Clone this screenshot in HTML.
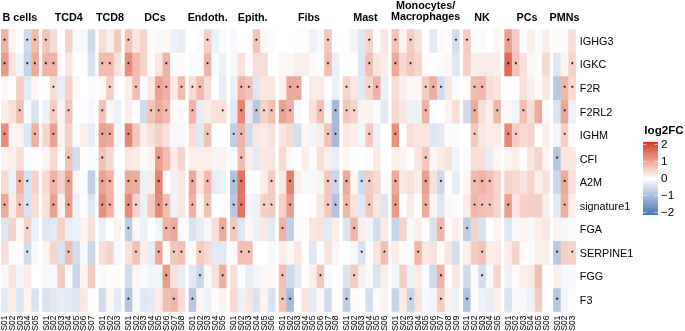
<!DOCTYPE html><html><head><meta charset="utf-8"><title>heatmap</title><style>html,body{margin:0;padding:0;background:#fff}svg{display:block;will-change:transform;opacity:0.999}text{font-family:"Liberation Sans",sans-serif;fill:#000}</style></head><body>
<svg width="685" height="331" viewBox="0 0 685 331">
<defs><linearGradient id="lg" x1="0" y1="0" x2="0" y2="1">
<stop offset="0.0000" stop-color="#d73027"/>
<stop offset="0.0250" stop-color="#d93e30"/>
<stop offset="0.0500" stop-color="#db4b3a"/>
<stop offset="0.0750" stop-color="#dd5644"/>
<stop offset="0.1000" stop-color="#df624e"/>
<stop offset="0.1250" stop-color="#e16c58"/>
<stop offset="0.1500" stop-color="#e37763"/>
<stop offset="0.1750" stop-color="#e5816d"/>
<stop offset="0.2000" stop-color="#e78b77"/>
<stop offset="0.2250" stop-color="#e99482"/>
<stop offset="0.2500" stop-color="#eb9e8d"/>
<stop offset="0.2750" stop-color="#eda898"/>
<stop offset="0.3000" stop-color="#efb2a3"/>
<stop offset="0.3250" stop-color="#f1bbae"/>
<stop offset="0.3500" stop-color="#f3c5b9"/>
<stop offset="0.3750" stop-color="#f5cfc5"/>
<stop offset="0.4000" stop-color="#f7d8d0"/>
<stop offset="0.4250" stop-color="#f9e2dc"/>
<stop offset="0.4500" stop-color="#fbece7"/>
<stop offset="0.4750" stop-color="#fdf5f3"/>
<stop offset="0.5000" stop-color="#ffffff"/>
<stop offset="0.5250" stop-color="#f6f8fb"/>
<stop offset="0.5500" stop-color="#ecf0f8"/>
<stop offset="0.5750" stop-color="#e4eaf4"/>
<stop offset="0.6000" stop-color="#dbe2f0"/>
<stop offset="0.6250" stop-color="#d2dcec"/>
<stop offset="0.6500" stop-color="#c8d4e9"/>
<stop offset="0.6750" stop-color="#c0cee5"/>
<stop offset="0.7000" stop-color="#b6c6e1"/>
<stop offset="0.7250" stop-color="#aec0dd"/>
<stop offset="0.7500" stop-color="#a4b8da"/>
<stop offset="0.7750" stop-color="#9cb2d6"/>
<stop offset="0.8000" stop-color="#92aad2"/>
<stop offset="0.8250" stop-color="#89a4ce"/>
<stop offset="0.8500" stop-color="#809dca"/>
<stop offset="0.8750" stop-color="#7696c7"/>
<stop offset="0.9000" stop-color="#6c90c3"/>
<stop offset="0.9250" stop-color="#6389bf"/>
<stop offset="0.9500" stop-color="#5982bb"/>
<stop offset="0.9750" stop-color="#4f7cb8"/>
<stop offset="1.0000" stop-color="#4575b4"/>
</linearGradient></defs>
<rect width="685" height="331" fill="#fff"/>
<rect x="1.00" y="29.20" width="8.17" height="24.15" fill="#efb2a4"/>
<rect x="8.57" y="29.20" width="8.17" height="24.15" fill="#fcf2ef"/>
<rect x="16.14" y="29.20" width="8.17" height="24.15" fill="#fefcfc"/>
<rect x="23.71" y="29.20" width="8.17" height="24.15" fill="#d0dbec"/>
<rect x="31.28" y="29.20" width="7.57" height="24.15" fill="#f1bbad"/>
<rect x="1.00" y="52.75" width="8.17" height="24.15" fill="#ea9987"/>
<rect x="8.57" y="52.75" width="8.17" height="24.15" fill="#fae5e0"/>
<rect x="16.14" y="52.75" width="8.17" height="24.15" fill="#f1f4f9"/>
<rect x="23.71" y="52.75" width="8.17" height="24.15" fill="#c8d4e8"/>
<rect x="31.28" y="52.75" width="7.57" height="24.15" fill="#edaa9a"/>
<rect x="1.00" y="76.30" width="8.17" height="24.15" fill="#fdf6f5"/>
<rect x="8.57" y="76.30" width="8.17" height="24.15" fill="#ffffff"/>
<rect x="16.14" y="76.30" width="8.17" height="24.15" fill="#f5d0c6"/>
<rect x="23.71" y="76.30" width="8.17" height="24.15" fill="#e3e9f4"/>
<rect x="31.28" y="76.30" width="7.57" height="24.15" fill="#fdf6f5"/>
<rect x="1.00" y="99.85" width="8.17" height="24.15" fill="#fbeeea"/>
<rect x="8.57" y="99.85" width="8.17" height="24.15" fill="#f8ddd6"/>
<rect x="16.14" y="99.85" width="8.17" height="24.15" fill="#f2bfb2"/>
<rect x="23.71" y="99.85" width="8.17" height="24.15" fill="#f6f8fb"/>
<rect x="31.28" y="99.85" width="7.57" height="24.15" fill="#dae2f0"/>
<rect x="1.00" y="123.40" width="8.17" height="24.15" fill="#e8907d"/>
<rect x="8.57" y="123.40" width="8.17" height="24.15" fill="#fdf6f5"/>
<rect x="16.14" y="123.40" width="8.17" height="24.15" fill="#fcf2ef"/>
<rect x="23.71" y="123.40" width="8.17" height="24.15" fill="#dee6f2"/>
<rect x="31.28" y="123.40" width="7.57" height="24.15" fill="#efb2a4"/>
<rect x="1.00" y="146.95" width="8.17" height="24.15" fill="#fcf2ef"/>
<rect x="8.57" y="146.95" width="8.17" height="24.15" fill="#fbeeea"/>
<rect x="16.14" y="146.95" width="8.17" height="24.15" fill="#f8ddd6"/>
<rect x="23.71" y="146.95" width="8.17" height="24.15" fill="#fafbfd"/>
<rect x="31.28" y="146.95" width="7.57" height="24.15" fill="#fefcfc"/>
<rect x="1.00" y="170.50" width="8.17" height="24.15" fill="#f7d9d0"/>
<rect x="8.57" y="170.50" width="8.17" height="24.15" fill="#ecf0f7"/>
<rect x="16.14" y="170.50" width="8.17" height="24.15" fill="#efb2a4"/>
<rect x="23.71" y="170.50" width="8.17" height="24.15" fill="#dae2f0"/>
<rect x="31.28" y="170.50" width="7.57" height="24.15" fill="#f6d4cb"/>
<rect x="1.00" y="194.05" width="8.17" height="24.15" fill="#edaa9a"/>
<rect x="8.57" y="194.05" width="8.17" height="24.15" fill="#fbeeea"/>
<rect x="16.14" y="194.05" width="8.17" height="24.15" fill="#f3c3b7"/>
<rect x="23.71" y="194.05" width="8.17" height="24.15" fill="#dae2f0"/>
<rect x="31.28" y="194.05" width="7.57" height="24.15" fill="#f8ddd6"/>
<rect x="1.00" y="217.60" width="8.17" height="24.15" fill="#dee6f2"/>
<rect x="8.57" y="217.60" width="8.17" height="24.15" fill="#f6d4cb"/>
<rect x="16.14" y="217.60" width="8.17" height="24.15" fill="#fdf6f5"/>
<rect x="23.71" y="217.60" width="8.17" height="24.15" fill="#f6d4cb"/>
<rect x="31.28" y="217.60" width="7.57" height="24.15" fill="#ecf0f7"/>
<rect x="1.00" y="241.15" width="8.17" height="24.15" fill="#f8ddd6"/>
<rect x="8.57" y="241.15" width="8.17" height="24.15" fill="#fefcfc"/>
<rect x="16.14" y="241.15" width="8.17" height="24.15" fill="#fefcfc"/>
<rect x="23.71" y="241.15" width="8.17" height="24.15" fill="#d5deee"/>
<rect x="31.28" y="241.15" width="7.57" height="24.15" fill="#f6f8fb"/>
<rect x="1.00" y="264.70" width="8.17" height="24.15" fill="#f6f8fb"/>
<rect x="8.57" y="264.70" width="8.17" height="24.15" fill="#f9e1db"/>
<rect x="16.14" y="264.70" width="8.17" height="24.15" fill="#f1f4f9"/>
<rect x="23.71" y="264.70" width="8.17" height="24.15" fill="#fbeae5"/>
<rect x="31.28" y="264.70" width="7.57" height="24.15" fill="#ffffff"/>
<rect x="1.00" y="288.25" width="8.17" height="23.55" fill="#e3e9f4"/>
<rect x="8.57" y="288.25" width="8.17" height="23.55" fill="#fbeae5"/>
<rect x="16.14" y="288.25" width="8.17" height="23.55" fill="#dee6f2"/>
<rect x="23.71" y="288.25" width="8.17" height="23.55" fill="#fcf2ef"/>
<rect x="31.28" y="288.25" width="7.57" height="23.55" fill="#dae2f0"/>
<rect x="42.25" y="29.20" width="8.17" height="24.15" fill="#f3c3b7"/>
<rect x="49.82" y="29.20" width="8.17" height="24.15" fill="#f8ddd6"/>
<rect x="57.39" y="29.20" width="8.17" height="24.15" fill="#ffffff"/>
<rect x="64.96" y="29.20" width="8.17" height="24.15" fill="#f6d4cb"/>
<rect x="72.53" y="29.20" width="8.17" height="24.15" fill="#f6f8fb"/>
<rect x="80.10" y="29.20" width="8.17" height="24.15" fill="#f6f8fb"/>
<rect x="87.67" y="29.20" width="7.57" height="24.15" fill="#d0dbec"/>
<rect x="42.25" y="52.75" width="8.17" height="24.15" fill="#efb2a4"/>
<rect x="49.82" y="52.75" width="8.17" height="24.15" fill="#efb2a4"/>
<rect x="57.39" y="52.75" width="8.17" height="24.15" fill="#fafbfd"/>
<rect x="64.96" y="52.75" width="8.17" height="24.15" fill="#fae5e0"/>
<rect x="72.53" y="52.75" width="8.17" height="24.15" fill="#ffffff"/>
<rect x="80.10" y="52.75" width="8.17" height="24.15" fill="#fefbfa"/>
<rect x="87.67" y="52.75" width="7.57" height="24.15" fill="#dae2f0"/>
<rect x="42.25" y="76.30" width="8.17" height="24.15" fill="#ffffff"/>
<rect x="49.82" y="76.30" width="8.17" height="24.15" fill="#f8ddd6"/>
<rect x="57.39" y="76.30" width="8.17" height="24.15" fill="#e8ecf5"/>
<rect x="64.96" y="76.30" width="8.17" height="24.15" fill="#f6d4cb"/>
<rect x="72.53" y="76.30" width="8.17" height="24.15" fill="#fdf6f5"/>
<rect x="80.10" y="76.30" width="8.17" height="24.15" fill="#ffffff"/>
<rect x="87.67" y="76.30" width="7.57" height="24.15" fill="#fafbfd"/>
<rect x="42.25" y="99.85" width="8.17" height="24.15" fill="#ecf0f7"/>
<rect x="49.82" y="99.85" width="8.17" height="24.15" fill="#f4ccc1"/>
<rect x="57.39" y="99.85" width="8.17" height="24.15" fill="#fcf2ef"/>
<rect x="64.96" y="99.85" width="8.17" height="24.15" fill="#f3c3b7"/>
<rect x="72.53" y="99.85" width="8.17" height="24.15" fill="#ffffff"/>
<rect x="80.10" y="99.85" width="8.17" height="24.15" fill="#fcfdfe"/>
<rect x="87.67" y="99.85" width="7.57" height="24.15" fill="#f6f8fb"/>
<rect x="42.25" y="123.40" width="8.17" height="24.15" fill="#f6d4cb"/>
<rect x="49.82" y="123.40" width="8.17" height="24.15" fill="#eca190"/>
<rect x="57.39" y="123.40" width="8.17" height="24.15" fill="#fcf2ef"/>
<rect x="64.96" y="123.40" width="8.17" height="24.15" fill="#f6d4cb"/>
<rect x="72.53" y="123.40" width="8.17" height="24.15" fill="#fafbfd"/>
<rect x="80.10" y="123.40" width="8.17" height="24.15" fill="#fbeeea"/>
<rect x="87.67" y="123.40" width="7.57" height="24.15" fill="#e8ecf5"/>
<rect x="42.25" y="146.95" width="8.17" height="24.15" fill="#fcf2ef"/>
<rect x="49.82" y="146.95" width="8.17" height="24.15" fill="#f7d9d0"/>
<rect x="57.39" y="146.95" width="8.17" height="24.15" fill="#fefcfc"/>
<rect x="64.96" y="146.95" width="8.17" height="24.15" fill="#f3c3b7"/>
<rect x="72.53" y="146.95" width="8.17" height="24.15" fill="#d5deee"/>
<rect x="80.10" y="146.95" width="8.17" height="24.15" fill="#fefcfc"/>
<rect x="87.67" y="146.95" width="7.57" height="24.15" fill="#fafbfd"/>
<rect x="42.25" y="170.50" width="8.17" height="24.15" fill="#f7d9d0"/>
<rect x="49.82" y="170.50" width="8.17" height="24.15" fill="#efb2a4"/>
<rect x="57.39" y="170.50" width="8.17" height="24.15" fill="#f6d4cb"/>
<rect x="64.96" y="170.50" width="8.17" height="24.15" fill="#eca190"/>
<rect x="72.53" y="170.50" width="8.17" height="24.15" fill="#fcf2ef"/>
<rect x="80.10" y="170.50" width="8.17" height="24.15" fill="#fafbfd"/>
<rect x="87.67" y="170.50" width="7.57" height="24.15" fill="#c2d0e6"/>
<rect x="42.25" y="194.05" width="8.17" height="24.15" fill="#f9e1db"/>
<rect x="49.82" y="194.05" width="8.17" height="24.15" fill="#eca190"/>
<rect x="57.39" y="194.05" width="8.17" height="24.15" fill="#fcf2ef"/>
<rect x="64.96" y="194.05" width="8.17" height="24.15" fill="#eca190"/>
<rect x="72.53" y="194.05" width="8.17" height="24.15" fill="#ecf0f7"/>
<rect x="80.10" y="194.05" width="8.17" height="24.15" fill="#fefcfc"/>
<rect x="87.67" y="194.05" width="7.57" height="24.15" fill="#dee6f2"/>
<rect x="42.25" y="217.60" width="8.17" height="24.15" fill="#dee6f2"/>
<rect x="49.82" y="217.60" width="8.17" height="24.15" fill="#e3e9f4"/>
<rect x="57.39" y="217.60" width="8.17" height="24.15" fill="#f6d4cb"/>
<rect x="64.96" y="217.60" width="8.17" height="24.15" fill="#e8ecf5"/>
<rect x="72.53" y="217.60" width="8.17" height="24.15" fill="#ecf0f7"/>
<rect x="80.10" y="217.60" width="8.17" height="24.15" fill="#fcf2ef"/>
<rect x="87.67" y="217.60" width="7.57" height="24.15" fill="#f9e1db"/>
<rect x="42.25" y="241.15" width="8.17" height="24.15" fill="#fcf2ef"/>
<rect x="49.82" y="241.15" width="8.17" height="24.15" fill="#f6d4cb"/>
<rect x="57.39" y="241.15" width="8.17" height="24.15" fill="#dae2f0"/>
<rect x="64.96" y="241.15" width="8.17" height="24.15" fill="#f1bbad"/>
<rect x="72.53" y="241.15" width="8.17" height="24.15" fill="#d5deee"/>
<rect x="80.10" y="241.15" width="8.17" height="24.15" fill="#f6f8fb"/>
<rect x="87.67" y="241.15" width="7.57" height="24.15" fill="#ccd7ea"/>
<rect x="42.25" y="264.70" width="8.17" height="24.15" fill="#f6f8fb"/>
<rect x="49.82" y="264.70" width="8.17" height="24.15" fill="#f6f8fb"/>
<rect x="57.39" y="264.70" width="8.17" height="24.15" fill="#f4ccc1"/>
<rect x="64.96" y="264.70" width="8.17" height="24.15" fill="#fafbfd"/>
<rect x="72.53" y="264.70" width="8.17" height="24.15" fill="#ccd7ea"/>
<rect x="80.10" y="264.70" width="8.17" height="24.15" fill="#fcf2ef"/>
<rect x="87.67" y="264.70" width="7.57" height="24.15" fill="#f4ccc1"/>
<rect x="42.25" y="288.25" width="8.17" height="23.55" fill="#dae2f0"/>
<rect x="49.82" y="288.25" width="8.17" height="23.55" fill="#e3e9f4"/>
<rect x="57.39" y="288.25" width="8.17" height="23.55" fill="#e8ecf5"/>
<rect x="64.96" y="288.25" width="8.17" height="23.55" fill="#e3e9f4"/>
<rect x="72.53" y="288.25" width="8.17" height="23.55" fill="#dee6f2"/>
<rect x="80.10" y="288.25" width="8.17" height="23.55" fill="#fae5e0"/>
<rect x="87.67" y="288.25" width="7.57" height="23.55" fill="#fefcfc"/>
<rect x="98.64" y="29.20" width="8.17" height="24.15" fill="#f8ddd6"/>
<rect x="106.21" y="29.20" width="8.17" height="24.15" fill="#fbeeea"/>
<rect x="113.78" y="29.20" width="7.57" height="24.15" fill="#f4ccc1"/>
<rect x="98.64" y="52.75" width="8.17" height="24.15" fill="#f1bbad"/>
<rect x="106.21" y="52.75" width="8.17" height="24.15" fill="#f1bbad"/>
<rect x="113.78" y="52.75" width="7.57" height="24.15" fill="#f9e1db"/>
<rect x="98.64" y="76.30" width="8.17" height="24.15" fill="#fdf6f5"/>
<rect x="106.21" y="76.30" width="8.17" height="24.15" fill="#f4ccc1"/>
<rect x="113.78" y="76.30" width="7.57" height="24.15" fill="#ffffff"/>
<rect x="98.64" y="99.85" width="8.17" height="24.15" fill="#f3c3b7"/>
<rect x="106.21" y="99.85" width="8.17" height="24.15" fill="#fdf6f5"/>
<rect x="113.78" y="99.85" width="7.57" height="24.15" fill="#ecf0f7"/>
<rect x="98.64" y="123.40" width="8.17" height="24.15" fill="#eca190"/>
<rect x="106.21" y="123.40" width="8.17" height="24.15" fill="#edaa9a"/>
<rect x="113.78" y="123.40" width="7.57" height="24.15" fill="#f4f6fa"/>
<rect x="98.64" y="146.95" width="8.17" height="24.15" fill="#f3c3b7"/>
<rect x="106.21" y="146.95" width="8.17" height="24.15" fill="#f7d9d0"/>
<rect x="113.78" y="146.95" width="7.57" height="24.15" fill="#fefcfc"/>
<rect x="98.64" y="170.50" width="8.17" height="24.15" fill="#eca190"/>
<rect x="106.21" y="170.50" width="8.17" height="24.15" fill="#efb2a4"/>
<rect x="113.78" y="170.50" width="7.57" height="24.15" fill="#fefcfc"/>
<rect x="98.64" y="194.05" width="8.17" height="24.15" fill="#e8907d"/>
<rect x="106.21" y="194.05" width="8.17" height="24.15" fill="#efb2a4"/>
<rect x="113.78" y="194.05" width="7.57" height="24.15" fill="#fefbfa"/>
<rect x="98.64" y="217.60" width="8.17" height="24.15" fill="#ecf0f7"/>
<rect x="106.21" y="217.60" width="8.17" height="24.15" fill="#ffffff"/>
<rect x="113.78" y="217.60" width="7.57" height="24.15" fill="#fcf2ef"/>
<rect x="98.64" y="241.15" width="8.17" height="24.15" fill="#f8ddd6"/>
<rect x="106.21" y="241.15" width="8.17" height="24.15" fill="#f6d4cb"/>
<rect x="113.78" y="241.15" width="7.57" height="24.15" fill="#f6f8fb"/>
<rect x="98.64" y="264.70" width="8.17" height="24.15" fill="#f6f8fb"/>
<rect x="106.21" y="264.70" width="8.17" height="24.15" fill="#fefbfa"/>
<rect x="113.78" y="264.70" width="7.57" height="24.15" fill="#fefbfa"/>
<rect x="98.64" y="288.25" width="8.17" height="23.55" fill="#d0dbec"/>
<rect x="106.21" y="288.25" width="8.17" height="23.55" fill="#fdf6f5"/>
<rect x="113.78" y="288.25" width="7.57" height="23.55" fill="#e3e9f4"/>
<rect x="124.75" y="29.20" width="8.17" height="24.15" fill="#f3c3b7"/>
<rect x="132.32" y="29.20" width="8.17" height="24.15" fill="#fae5e0"/>
<rect x="139.89" y="29.20" width="8.17" height="24.15" fill="#f6d4cb"/>
<rect x="147.46" y="29.20" width="8.17" height="24.15" fill="#fefbfa"/>
<rect x="155.03" y="29.20" width="8.17" height="24.15" fill="#f6f8fb"/>
<rect x="162.60" y="29.20" width="8.17" height="24.15" fill="#fdf6f5"/>
<rect x="170.17" y="29.20" width="8.17" height="24.15" fill="#ecf0f7"/>
<rect x="177.74" y="29.20" width="7.57" height="24.15" fill="#e8ecf5"/>
<rect x="124.75" y="52.75" width="8.17" height="24.15" fill="#e8907d"/>
<rect x="132.32" y="52.75" width="8.17" height="24.15" fill="#f1bbad"/>
<rect x="139.89" y="52.75" width="8.17" height="24.15" fill="#f6d4cb"/>
<rect x="147.46" y="52.75" width="8.17" height="24.15" fill="#fefbfa"/>
<rect x="155.03" y="52.75" width="8.17" height="24.15" fill="#fae5e0"/>
<rect x="162.60" y="52.75" width="8.17" height="24.15" fill="#efb2a4"/>
<rect x="170.17" y="52.75" width="8.17" height="24.15" fill="#fafbfd"/>
<rect x="177.74" y="52.75" width="7.57" height="24.15" fill="#fefbfa"/>
<rect x="124.75" y="76.30" width="8.17" height="24.15" fill="#fbeeea"/>
<rect x="132.32" y="76.30" width="8.17" height="24.15" fill="#f2bfb2"/>
<rect x="139.89" y="76.30" width="8.17" height="24.15" fill="#fafbfd"/>
<rect x="147.46" y="76.30" width="8.17" height="24.15" fill="#fae5e0"/>
<rect x="155.03" y="76.30" width="8.17" height="24.15" fill="#eca190"/>
<rect x="162.60" y="76.30" width="8.17" height="24.15" fill="#efb2a4"/>
<rect x="170.17" y="76.30" width="8.17" height="24.15" fill="#fbeae5"/>
<rect x="177.74" y="76.30" width="7.57" height="24.15" fill="#f1bbad"/>
<rect x="124.75" y="99.85" width="8.17" height="24.15" fill="#fbeeea"/>
<rect x="132.32" y="99.85" width="8.17" height="24.15" fill="#fefcfc"/>
<rect x="139.89" y="99.85" width="8.17" height="24.15" fill="#d0dbec"/>
<rect x="147.46" y="99.85" width="8.17" height="24.15" fill="#f3c3b7"/>
<rect x="155.03" y="99.85" width="8.17" height="24.15" fill="#edaa9a"/>
<rect x="162.60" y="99.85" width="8.17" height="24.15" fill="#f1bbad"/>
<rect x="170.17" y="99.85" width="8.17" height="24.15" fill="#fefbfa"/>
<rect x="177.74" y="99.85" width="7.57" height="24.15" fill="#fefbfa"/>
<rect x="124.75" y="123.40" width="8.17" height="24.15" fill="#e68774"/>
<rect x="132.32" y="123.40" width="8.17" height="24.15" fill="#f4c8bc"/>
<rect x="139.89" y="123.40" width="8.17" height="24.15" fill="#fbeeea"/>
<rect x="147.46" y="123.40" width="8.17" height="24.15" fill="#f9e1db"/>
<rect x="155.03" y="123.40" width="8.17" height="24.15" fill="#f5d0c6"/>
<rect x="162.60" y="123.40" width="8.17" height="24.15" fill="#f9e1db"/>
<rect x="170.17" y="123.40" width="8.17" height="24.15" fill="#f6f8fb"/>
<rect x="177.74" y="123.40" width="7.57" height="24.15" fill="#f6f8fb"/>
<rect x="124.75" y="146.95" width="8.17" height="24.15" fill="#fae5e0"/>
<rect x="132.32" y="146.95" width="8.17" height="24.15" fill="#fbeae5"/>
<rect x="139.89" y="146.95" width="8.17" height="24.15" fill="#fafbfd"/>
<rect x="147.46" y="146.95" width="8.17" height="24.15" fill="#fcf2ef"/>
<rect x="155.03" y="146.95" width="8.17" height="24.15" fill="#eb9d8c"/>
<rect x="162.60" y="146.95" width="8.17" height="24.15" fill="#f1bbad"/>
<rect x="170.17" y="146.95" width="8.17" height="24.15" fill="#fbeae5"/>
<rect x="177.74" y="146.95" width="7.57" height="24.15" fill="#f6d4cb"/>
<rect x="124.75" y="170.50" width="8.17" height="24.15" fill="#edaa9a"/>
<rect x="132.32" y="170.50" width="8.17" height="24.15" fill="#eeae9f"/>
<rect x="139.89" y="170.50" width="8.17" height="24.15" fill="#ecf0f7"/>
<rect x="147.46" y="170.50" width="8.17" height="24.15" fill="#fbeae5"/>
<rect x="155.03" y="170.50" width="8.17" height="24.15" fill="#e5836f"/>
<rect x="162.60" y="170.50" width="8.17" height="24.15" fill="#fefcfc"/>
<rect x="170.17" y="170.50" width="8.17" height="24.15" fill="#ecf0f7"/>
<rect x="177.74" y="170.50" width="7.57" height="24.15" fill="#fae5e0"/>
<rect x="124.75" y="194.05" width="8.17" height="24.15" fill="#e78c79"/>
<rect x="132.32" y="194.05" width="8.17" height="24.15" fill="#f6d4cb"/>
<rect x="139.89" y="194.05" width="8.17" height="24.15" fill="#ecf0f7"/>
<rect x="147.46" y="194.05" width="8.17" height="24.15" fill="#f4ccc1"/>
<rect x="155.03" y="194.05" width="8.17" height="24.15" fill="#e78c79"/>
<rect x="162.60" y="194.05" width="8.17" height="24.15" fill="#f2bfb2"/>
<rect x="170.17" y="194.05" width="8.17" height="24.15" fill="#ecf0f7"/>
<rect x="177.74" y="194.05" width="7.57" height="24.15" fill="#fae5e0"/>
<rect x="124.75" y="217.60" width="8.17" height="24.15" fill="#becce4"/>
<rect x="132.32" y="217.60" width="8.17" height="24.15" fill="#fdf6f5"/>
<rect x="139.89" y="217.60" width="8.17" height="24.15" fill="#ecf0f7"/>
<rect x="147.46" y="217.60" width="8.17" height="24.15" fill="#ffffff"/>
<rect x="155.03" y="217.60" width="8.17" height="24.15" fill="#f1f4f9"/>
<rect x="162.60" y="217.60" width="8.17" height="24.15" fill="#efb2a4"/>
<rect x="170.17" y="217.60" width="8.17" height="24.15" fill="#edaa9a"/>
<rect x="177.74" y="217.60" width="7.57" height="24.15" fill="#fafbfd"/>
<rect x="124.75" y="241.15" width="8.17" height="24.15" fill="#f9e1db"/>
<rect x="132.32" y="241.15" width="8.17" height="24.15" fill="#f3c3b7"/>
<rect x="139.89" y="241.15" width="8.17" height="24.15" fill="#fbeeea"/>
<rect x="147.46" y="241.15" width="8.17" height="24.15" fill="#e8ecf5"/>
<rect x="155.03" y="241.15" width="8.17" height="24.15" fill="#edaa9a"/>
<rect x="162.60" y="241.15" width="8.17" height="24.15" fill="#ffffff"/>
<rect x="170.17" y="241.15" width="8.17" height="24.15" fill="#f4c8bc"/>
<rect x="177.74" y="241.15" width="7.57" height="24.15" fill="#f2bfb2"/>
<rect x="124.75" y="264.70" width="8.17" height="24.15" fill="#d0dbec"/>
<rect x="132.32" y="264.70" width="8.17" height="24.15" fill="#fdf6f5"/>
<rect x="139.89" y="264.70" width="8.17" height="24.15" fill="#fafbfd"/>
<rect x="147.46" y="264.70" width="8.17" height="24.15" fill="#f1f4f9"/>
<rect x="155.03" y="264.70" width="8.17" height="24.15" fill="#f1f4f9"/>
<rect x="162.60" y="264.70" width="8.17" height="24.15" fill="#eb9d8c"/>
<rect x="170.17" y="264.70" width="8.17" height="24.15" fill="#f9e1db"/>
<rect x="177.74" y="264.70" width="7.57" height="24.15" fill="#e8ecf5"/>
<rect x="124.75" y="288.25" width="8.17" height="23.55" fill="#b5c6e0"/>
<rect x="132.32" y="288.25" width="8.17" height="23.55" fill="#f6f8fb"/>
<rect x="139.89" y="288.25" width="8.17" height="23.55" fill="#dee6f2"/>
<rect x="147.46" y="288.25" width="8.17" height="23.55" fill="#e3e9f4"/>
<rect x="155.03" y="288.25" width="8.17" height="23.55" fill="#fbeae5"/>
<rect x="162.60" y="288.25" width="8.17" height="23.55" fill="#f2bfb2"/>
<rect x="170.17" y="288.25" width="8.17" height="23.55" fill="#f0b7a9"/>
<rect x="177.74" y="288.25" width="7.57" height="23.55" fill="#f8ddd6"/>
<rect x="188.71" y="29.20" width="8.17" height="24.15" fill="#ffffff"/>
<rect x="196.28" y="29.20" width="8.17" height="24.15" fill="#fafbfd"/>
<rect x="203.85" y="29.20" width="8.17" height="24.15" fill="#f5d0c6"/>
<rect x="211.42" y="29.20" width="8.17" height="24.15" fill="#ecf0f7"/>
<rect x="218.99" y="29.20" width="7.57" height="24.15" fill="#fafbfd"/>
<rect x="188.71" y="52.75" width="8.17" height="24.15" fill="#fafbfd"/>
<rect x="196.28" y="52.75" width="8.17" height="24.15" fill="#fefbfa"/>
<rect x="203.85" y="52.75" width="8.17" height="24.15" fill="#f0b7a9"/>
<rect x="211.42" y="52.75" width="8.17" height="24.15" fill="#fafbfd"/>
<rect x="218.99" y="52.75" width="7.57" height="24.15" fill="#ecf0f7"/>
<rect x="188.71" y="76.30" width="8.17" height="24.15" fill="#f8ddd6"/>
<rect x="196.28" y="76.30" width="8.17" height="24.15" fill="#f1bbad"/>
<rect x="203.85" y="76.30" width="8.17" height="24.15" fill="#f8ddd6"/>
<rect x="211.42" y="76.30" width="8.17" height="24.15" fill="#ffffff"/>
<rect x="218.99" y="76.30" width="7.57" height="24.15" fill="#e8ecf5"/>
<rect x="188.71" y="99.85" width="8.17" height="24.15" fill="#f0b7a9"/>
<rect x="196.28" y="99.85" width="8.17" height="24.15" fill="#e8ecf5"/>
<rect x="203.85" y="99.85" width="8.17" height="24.15" fill="#fbeae5"/>
<rect x="211.42" y="99.85" width="8.17" height="24.15" fill="#f8dfd8"/>
<rect x="218.99" y="99.85" width="7.57" height="24.15" fill="#f8dfd8"/>
<rect x="188.71" y="123.40" width="8.17" height="24.15" fill="#f8ddd6"/>
<rect x="196.28" y="123.40" width="8.17" height="24.15" fill="#e3e9f4"/>
<rect x="203.85" y="123.40" width="8.17" height="24.15" fill="#f3c3b7"/>
<rect x="211.42" y="123.40" width="8.17" height="24.15" fill="#ffffff"/>
<rect x="218.99" y="123.40" width="7.57" height="24.15" fill="#ffffff"/>
<rect x="188.71" y="146.95" width="8.17" height="24.15" fill="#fbeeea"/>
<rect x="196.28" y="146.95" width="8.17" height="24.15" fill="#fbeeea"/>
<rect x="203.85" y="146.95" width="8.17" height="24.15" fill="#fbeeea"/>
<rect x="211.42" y="146.95" width="8.17" height="24.15" fill="#fcf2ef"/>
<rect x="218.99" y="146.95" width="7.57" height="24.15" fill="#fcf2ef"/>
<rect x="188.71" y="170.50" width="8.17" height="24.15" fill="#edaa9a"/>
<rect x="196.28" y="170.50" width="8.17" height="24.15" fill="#fae5e0"/>
<rect x="203.85" y="170.50" width="8.17" height="24.15" fill="#f1bbad"/>
<rect x="211.42" y="170.50" width="8.17" height="24.15" fill="#e8ecf5"/>
<rect x="218.99" y="170.50" width="7.57" height="24.15" fill="#ecf0f7"/>
<rect x="188.71" y="194.05" width="8.17" height="24.15" fill="#efb2a4"/>
<rect x="196.28" y="194.05" width="8.17" height="24.15" fill="#fdf6f5"/>
<rect x="203.85" y="194.05" width="8.17" height="24.15" fill="#f3c3b7"/>
<rect x="211.42" y="194.05" width="8.17" height="24.15" fill="#ffffff"/>
<rect x="218.99" y="194.05" width="7.57" height="24.15" fill="#fafbfd"/>
<rect x="188.71" y="217.60" width="8.17" height="24.15" fill="#dae2f0"/>
<rect x="196.28" y="217.60" width="8.17" height="24.15" fill="#e8ecf5"/>
<rect x="203.85" y="217.60" width="8.17" height="24.15" fill="#f6f8fb"/>
<rect x="211.42" y="217.60" width="8.17" height="24.15" fill="#f8ddd6"/>
<rect x="218.99" y="217.60" width="7.57" height="24.15" fill="#edaa9a"/>
<rect x="188.71" y="241.15" width="8.17" height="24.15" fill="#fefbfa"/>
<rect x="196.28" y="241.15" width="8.17" height="24.15" fill="#f4ccc1"/>
<rect x="203.85" y="241.15" width="8.17" height="24.15" fill="#f7d9d0"/>
<rect x="211.42" y="241.15" width="8.17" height="24.15" fill="#e3e9f4"/>
<rect x="218.99" y="241.15" width="7.57" height="24.15" fill="#e3e9f4"/>
<rect x="188.71" y="264.70" width="8.17" height="24.15" fill="#e3e9f4"/>
<rect x="196.28" y="264.70" width="8.17" height="24.15" fill="#ccd7ea"/>
<rect x="203.85" y="264.70" width="8.17" height="24.15" fill="#f6f8fb"/>
<rect x="211.42" y="264.70" width="8.17" height="24.15" fill="#f9e1db"/>
<rect x="218.99" y="264.70" width="7.57" height="24.15" fill="#eeae9f"/>
<rect x="188.71" y="288.25" width="8.17" height="23.55" fill="#bac8e2"/>
<rect x="196.28" y="288.25" width="8.17" height="23.55" fill="#fdf6f5"/>
<rect x="203.85" y="288.25" width="8.17" height="23.55" fill="#ecf0f7"/>
<rect x="211.42" y="288.25" width="8.17" height="23.55" fill="#fefbfa"/>
<rect x="218.99" y="288.25" width="7.57" height="23.55" fill="#fcf2ef"/>
<rect x="229.96" y="29.20" width="8.17" height="24.15" fill="#f6f8fb"/>
<rect x="237.53" y="29.20" width="8.17" height="24.15" fill="#ffffff"/>
<rect x="245.10" y="29.20" width="8.17" height="24.15" fill="#ffffff"/>
<rect x="252.67" y="29.20" width="8.17" height="24.15" fill="#f3c3b7"/>
<rect x="260.24" y="29.20" width="8.17" height="24.15" fill="#fdf6f5"/>
<rect x="267.81" y="29.20" width="7.57" height="24.15" fill="#fafbfd"/>
<rect x="229.96" y="52.75" width="8.17" height="24.15" fill="#f6f8fb"/>
<rect x="237.53" y="52.75" width="8.17" height="24.15" fill="#f9e1db"/>
<rect x="245.10" y="52.75" width="8.17" height="24.15" fill="#fefbfa"/>
<rect x="252.67" y="52.75" width="8.17" height="24.15" fill="#f8ddd6"/>
<rect x="260.24" y="52.75" width="8.17" height="24.15" fill="#f8ddd6"/>
<rect x="267.81" y="52.75" width="7.57" height="24.15" fill="#ffffff"/>
<rect x="229.96" y="76.30" width="8.17" height="24.15" fill="#ecf0f7"/>
<rect x="237.53" y="76.30" width="8.17" height="24.15" fill="#f0b7a9"/>
<rect x="245.10" y="76.30" width="8.17" height="24.15" fill="#f3c3b7"/>
<rect x="252.67" y="76.30" width="8.17" height="24.15" fill="#dee6f2"/>
<rect x="260.24" y="76.30" width="8.17" height="24.15" fill="#fae5e0"/>
<rect x="267.81" y="76.30" width="7.57" height="24.15" fill="#fae5e0"/>
<rect x="229.96" y="99.85" width="8.17" height="24.15" fill="#e3e9f4"/>
<rect x="237.53" y="99.85" width="8.17" height="24.15" fill="#e68774"/>
<rect x="245.10" y="99.85" width="8.17" height="24.15" fill="#e8ecf5"/>
<rect x="252.67" y="99.85" width="8.17" height="24.15" fill="#bac8e2"/>
<rect x="260.24" y="99.85" width="8.17" height="24.15" fill="#f6d4cb"/>
<rect x="267.81" y="99.85" width="7.57" height="24.15" fill="#f2bfb2"/>
<rect x="229.96" y="123.40" width="8.17" height="24.15" fill="#becce4"/>
<rect x="237.53" y="123.40" width="8.17" height="24.15" fill="#efb2a4"/>
<rect x="245.10" y="123.40" width="8.17" height="24.15" fill="#d0dbec"/>
<rect x="252.67" y="123.40" width="8.17" height="24.15" fill="#fae5e0"/>
<rect x="260.24" y="123.40" width="8.17" height="24.15" fill="#fbeae5"/>
<rect x="267.81" y="123.40" width="7.57" height="24.15" fill="#f9e1db"/>
<rect x="229.96" y="146.95" width="8.17" height="24.15" fill="#f6f8fb"/>
<rect x="237.53" y="146.95" width="8.17" height="24.15" fill="#f1bbad"/>
<rect x="245.10" y="146.95" width="8.17" height="24.15" fill="#fbeeea"/>
<rect x="252.67" y="146.95" width="8.17" height="24.15" fill="#e3e9f4"/>
<rect x="260.24" y="146.95" width="8.17" height="24.15" fill="#fae5e0"/>
<rect x="267.81" y="146.95" width="7.57" height="24.15" fill="#fae5e0"/>
<rect x="229.96" y="170.50" width="8.17" height="24.15" fill="#b0c2de"/>
<rect x="237.53" y="170.50" width="8.17" height="24.15" fill="#e37662"/>
<rect x="245.10" y="170.50" width="8.17" height="24.15" fill="#ffffff"/>
<rect x="252.67" y="170.50" width="8.17" height="24.15" fill="#ffffff"/>
<rect x="260.24" y="170.50" width="8.17" height="24.15" fill="#fbeeea"/>
<rect x="267.81" y="170.50" width="7.57" height="24.15" fill="#f4ccc1"/>
<rect x="229.96" y="194.05" width="8.17" height="24.15" fill="#bac8e2"/>
<rect x="237.53" y="194.05" width="8.17" height="24.15" fill="#e37662"/>
<rect x="245.10" y="194.05" width="8.17" height="24.15" fill="#f1f4f9"/>
<rect x="252.67" y="194.05" width="8.17" height="24.15" fill="#ecf0f7"/>
<rect x="260.24" y="194.05" width="8.17" height="24.15" fill="#f5d0c6"/>
<rect x="267.81" y="194.05" width="7.57" height="24.15" fill="#f4ccc1"/>
<rect x="229.96" y="217.60" width="8.17" height="24.15" fill="#f4c8bc"/>
<rect x="237.53" y="217.60" width="8.17" height="24.15" fill="#dee6f2"/>
<rect x="245.10" y="217.60" width="8.17" height="24.15" fill="#fdf6f5"/>
<rect x="252.67" y="217.60" width="8.17" height="24.15" fill="#ecf0f7"/>
<rect x="260.24" y="217.60" width="8.17" height="24.15" fill="#fae5e0"/>
<rect x="267.81" y="217.60" width="7.57" height="24.15" fill="#e3e9f4"/>
<rect x="229.96" y="241.15" width="8.17" height="24.15" fill="#fafbfd"/>
<rect x="237.53" y="241.15" width="8.17" height="24.15" fill="#f2bfb2"/>
<rect x="245.10" y="241.15" width="8.17" height="24.15" fill="#f2bfb2"/>
<rect x="252.67" y="241.15" width="8.17" height="24.15" fill="#ffffff"/>
<rect x="260.24" y="241.15" width="8.17" height="24.15" fill="#ffffff"/>
<rect x="267.81" y="241.15" width="7.57" height="24.15" fill="#f6f8fb"/>
<rect x="229.96" y="264.70" width="8.17" height="24.15" fill="#f8ddd6"/>
<rect x="237.53" y="264.70" width="8.17" height="24.15" fill="#fafbfd"/>
<rect x="245.10" y="264.70" width="8.17" height="24.15" fill="#e8ecf5"/>
<rect x="252.67" y="264.70" width="8.17" height="24.15" fill="#f1f4f9"/>
<rect x="260.24" y="264.70" width="8.17" height="24.15" fill="#fdf6f5"/>
<rect x="267.81" y="264.70" width="7.57" height="24.15" fill="#fdf6f5"/>
<rect x="229.96" y="288.25" width="8.17" height="23.55" fill="#f7d9d0"/>
<rect x="237.53" y="288.25" width="8.17" height="23.55" fill="#ecf0f7"/>
<rect x="245.10" y="288.25" width="8.17" height="23.55" fill="#fae5e0"/>
<rect x="252.67" y="288.25" width="8.17" height="23.55" fill="#dae2f0"/>
<rect x="260.24" y="288.25" width="8.17" height="23.55" fill="#fcf2ef"/>
<rect x="267.81" y="288.25" width="7.57" height="23.55" fill="#dae2f0"/>
<rect x="278.78" y="29.20" width="8.17" height="24.15" fill="#ffffff"/>
<rect x="286.35" y="29.20" width="8.17" height="24.15" fill="#ffffff"/>
<rect x="293.92" y="29.20" width="8.17" height="24.15" fill="#fcfdfe"/>
<rect x="301.49" y="29.20" width="8.17" height="24.15" fill="#fefcfc"/>
<rect x="309.06" y="29.20" width="8.17" height="24.15" fill="#ecf0f7"/>
<rect x="316.63" y="29.20" width="8.17" height="24.15" fill="#f6f8fb"/>
<rect x="324.20" y="29.20" width="8.17" height="24.15" fill="#f4c8bc"/>
<rect x="331.77" y="29.20" width="7.57" height="24.15" fill="#ffffff"/>
<rect x="278.78" y="52.75" width="8.17" height="24.15" fill="#fdf6f5"/>
<rect x="286.35" y="52.75" width="8.17" height="24.15" fill="#fdf6f5"/>
<rect x="293.92" y="52.75" width="8.17" height="24.15" fill="#fbeeea"/>
<rect x="301.49" y="52.75" width="8.17" height="24.15" fill="#fbeeea"/>
<rect x="309.06" y="52.75" width="8.17" height="24.15" fill="#f8f9fc"/>
<rect x="316.63" y="52.75" width="8.17" height="24.15" fill="#fefbfa"/>
<rect x="324.20" y="52.75" width="8.17" height="24.15" fill="#f2bfb2"/>
<rect x="331.77" y="52.75" width="7.57" height="24.15" fill="#ecf0f7"/>
<rect x="278.78" y="76.30" width="8.17" height="24.15" fill="#fcf2ef"/>
<rect x="286.35" y="76.30" width="8.17" height="24.15" fill="#edaa9a"/>
<rect x="293.92" y="76.30" width="8.17" height="24.15" fill="#edaa9a"/>
<rect x="301.49" y="76.30" width="8.17" height="24.15" fill="#ffffff"/>
<rect x="309.06" y="76.30" width="8.17" height="24.15" fill="#fbeae5"/>
<rect x="316.63" y="76.30" width="8.17" height="24.15" fill="#fbeae5"/>
<rect x="324.20" y="76.30" width="8.17" height="24.15" fill="#fefcfc"/>
<rect x="331.77" y="76.30" width="7.57" height="24.15" fill="#ecf0f7"/>
<rect x="278.78" y="99.85" width="8.17" height="24.15" fill="#eca190"/>
<rect x="286.35" y="99.85" width="8.17" height="24.15" fill="#efb2a4"/>
<rect x="293.92" y="99.85" width="8.17" height="24.15" fill="#f6f8fb"/>
<rect x="301.49" y="99.85" width="8.17" height="24.15" fill="#ffffff"/>
<rect x="309.06" y="99.85" width="8.17" height="24.15" fill="#f9e1db"/>
<rect x="316.63" y="99.85" width="8.17" height="24.15" fill="#f2bfb2"/>
<rect x="324.20" y="99.85" width="8.17" height="24.15" fill="#f6f8fb"/>
<rect x="331.77" y="99.85" width="7.57" height="24.15" fill="#a7badb"/>
<rect x="278.78" y="123.40" width="8.17" height="24.15" fill="#fae5e0"/>
<rect x="286.35" y="123.40" width="8.17" height="24.15" fill="#f7d9d0"/>
<rect x="293.92" y="123.40" width="8.17" height="24.15" fill="#d5deee"/>
<rect x="301.49" y="123.40" width="8.17" height="24.15" fill="#fdf6f5"/>
<rect x="309.06" y="123.40" width="8.17" height="24.15" fill="#f1f4f9"/>
<rect x="316.63" y="123.40" width="8.17" height="24.15" fill="#fbeae5"/>
<rect x="324.20" y="123.40" width="8.17" height="24.15" fill="#f3c3b7"/>
<rect x="331.77" y="123.40" width="7.57" height="24.15" fill="#a7badb"/>
<rect x="278.78" y="146.95" width="8.17" height="24.15" fill="#f7d9d0"/>
<rect x="286.35" y="146.95" width="8.17" height="24.15" fill="#fef8f7"/>
<rect x="293.92" y="146.95" width="8.17" height="24.15" fill="#ffffff"/>
<rect x="301.49" y="146.95" width="8.17" height="24.15" fill="#fbeeea"/>
<rect x="309.06" y="146.95" width="8.17" height="24.15" fill="#fafbfd"/>
<rect x="316.63" y="146.95" width="8.17" height="24.15" fill="#f8ddd6"/>
<rect x="324.20" y="146.95" width="8.17" height="24.15" fill="#fbeeea"/>
<rect x="331.77" y="146.95" width="7.57" height="24.15" fill="#e8ecf5"/>
<rect x="278.78" y="170.50" width="8.17" height="24.15" fill="#fbeae5"/>
<rect x="286.35" y="170.50" width="8.17" height="24.15" fill="#e47f6b"/>
<rect x="293.92" y="170.50" width="8.17" height="24.15" fill="#fbeeea"/>
<rect x="301.49" y="170.50" width="8.17" height="24.15" fill="#f6f8fb"/>
<rect x="309.06" y="170.50" width="8.17" height="24.15" fill="#f6f8fb"/>
<rect x="316.63" y="170.50" width="8.17" height="24.15" fill="#fcf2ef"/>
<rect x="324.20" y="170.50" width="8.17" height="24.15" fill="#f4c8bc"/>
<rect x="331.77" y="170.50" width="7.57" height="24.15" fill="#ccd7ea"/>
<rect x="278.78" y="194.05" width="8.17" height="24.15" fill="#f5d0c6"/>
<rect x="286.35" y="194.05" width="8.17" height="24.15" fill="#eb9d8c"/>
<rect x="293.92" y="194.05" width="8.17" height="24.15" fill="#fefcfc"/>
<rect x="301.49" y="194.05" width="8.17" height="24.15" fill="#ffffff"/>
<rect x="309.06" y="194.05" width="8.17" height="24.15" fill="#fefcfc"/>
<rect x="316.63" y="194.05" width="8.17" height="24.15" fill="#fae5e0"/>
<rect x="324.20" y="194.05" width="8.17" height="24.15" fill="#f4c8bc"/>
<rect x="331.77" y="194.05" width="7.57" height="24.15" fill="#b0c2de"/>
<rect x="278.78" y="217.60" width="8.17" height="24.15" fill="#efb2a4"/>
<rect x="286.35" y="217.60" width="8.17" height="24.15" fill="#c2d0e6"/>
<rect x="293.92" y="217.60" width="8.17" height="24.15" fill="#fafbfd"/>
<rect x="301.49" y="217.60" width="8.17" height="24.15" fill="#fefbfa"/>
<rect x="309.06" y="217.60" width="8.17" height="24.15" fill="#fae5e0"/>
<rect x="316.63" y="217.60" width="8.17" height="24.15" fill="#f9e1db"/>
<rect x="324.20" y="217.60" width="8.17" height="24.15" fill="#e3e9f4"/>
<rect x="331.77" y="217.60" width="7.57" height="24.15" fill="#fbeeea"/>
<rect x="278.78" y="241.15" width="8.17" height="24.15" fill="#fbeeea"/>
<rect x="286.35" y="241.15" width="8.17" height="24.15" fill="#fdf6f5"/>
<rect x="293.92" y="241.15" width="8.17" height="24.15" fill="#fae5e0"/>
<rect x="301.49" y="241.15" width="8.17" height="24.15" fill="#ffffff"/>
<rect x="309.06" y="241.15" width="8.17" height="24.15" fill="#dee6f2"/>
<rect x="316.63" y="241.15" width="8.17" height="24.15" fill="#fafbfd"/>
<rect x="324.20" y="241.15" width="8.17" height="24.15" fill="#f9e1db"/>
<rect x="331.77" y="241.15" width="7.57" height="24.15" fill="#fdf6f5"/>
<rect x="278.78" y="264.70" width="8.17" height="24.15" fill="#f2bfb2"/>
<rect x="286.35" y="264.70" width="8.17" height="24.15" fill="#d0dbec"/>
<rect x="293.92" y="264.70" width="8.17" height="24.15" fill="#e3e9f4"/>
<rect x="301.49" y="264.70" width="8.17" height="24.15" fill="#fefbfa"/>
<rect x="309.06" y="264.70" width="8.17" height="24.15" fill="#fbeeea"/>
<rect x="316.63" y="264.70" width="8.17" height="24.15" fill="#f4c8bc"/>
<rect x="324.20" y="264.70" width="8.17" height="24.15" fill="#f6f8fb"/>
<rect x="331.77" y="264.70" width="7.57" height="24.15" fill="#ffffff"/>
<rect x="278.78" y="288.25" width="8.17" height="23.55" fill="#f3c3b7"/>
<rect x="286.35" y="288.25" width="8.17" height="23.55" fill="#a7badb"/>
<rect x="293.92" y="288.25" width="8.17" height="23.55" fill="#ffffff"/>
<rect x="301.49" y="288.25" width="8.17" height="23.55" fill="#f9e1db"/>
<rect x="309.06" y="288.25" width="8.17" height="23.55" fill="#e3e9f4"/>
<rect x="316.63" y="288.25" width="8.17" height="23.55" fill="#fdf6f5"/>
<rect x="324.20" y="288.25" width="8.17" height="23.55" fill="#d0dbec"/>
<rect x="331.77" y="288.25" width="7.57" height="23.55" fill="#ffffff"/>
<rect x="342.74" y="29.20" width="8.17" height="24.15" fill="#fefcfc"/>
<rect x="350.31" y="29.20" width="8.17" height="24.15" fill="#f1f4f9"/>
<rect x="357.88" y="29.20" width="8.17" height="24.15" fill="#dee6f2"/>
<rect x="365.45" y="29.20" width="8.17" height="24.15" fill="#f6d4cb"/>
<rect x="373.02" y="29.20" width="8.17" height="24.15" fill="#fafbfd"/>
<rect x="380.59" y="29.20" width="7.57" height="24.15" fill="#fae5e0"/>
<rect x="342.74" y="52.75" width="8.17" height="24.15" fill="#fcfdfe"/>
<rect x="350.31" y="52.75" width="8.17" height="24.15" fill="#fcfdfe"/>
<rect x="357.88" y="52.75" width="8.17" height="24.15" fill="#dee6f2"/>
<rect x="365.45" y="52.75" width="8.17" height="24.15" fill="#f2bfb2"/>
<rect x="373.02" y="52.75" width="8.17" height="24.15" fill="#fae5e0"/>
<rect x="380.59" y="52.75" width="7.57" height="24.15" fill="#fbeeea"/>
<rect x="342.74" y="76.30" width="8.17" height="24.15" fill="#f6d4cb"/>
<rect x="350.31" y="76.30" width="8.17" height="24.15" fill="#fae5e0"/>
<rect x="357.88" y="76.30" width="8.17" height="24.15" fill="#e3e9f4"/>
<rect x="365.45" y="76.30" width="8.17" height="24.15" fill="#f6d4cb"/>
<rect x="373.02" y="76.30" width="8.17" height="24.15" fill="#efb2a4"/>
<rect x="380.59" y="76.30" width="7.57" height="24.15" fill="#ecf0f7"/>
<rect x="342.74" y="99.85" width="8.17" height="24.15" fill="#f4c8bc"/>
<rect x="350.31" y="99.85" width="8.17" height="24.15" fill="#f6d4cb"/>
<rect x="357.88" y="99.85" width="8.17" height="24.15" fill="#fcf2ef"/>
<rect x="365.45" y="99.85" width="8.17" height="24.15" fill="#fcf2ef"/>
<rect x="373.02" y="99.85" width="8.17" height="24.15" fill="#fafbfd"/>
<rect x="380.59" y="99.85" width="7.57" height="24.15" fill="#e3e9f4"/>
<rect x="342.74" y="123.40" width="8.17" height="24.15" fill="#fae5e0"/>
<rect x="350.31" y="123.40" width="8.17" height="24.15" fill="#fbeeea"/>
<rect x="357.88" y="123.40" width="8.17" height="24.15" fill="#f1f4f9"/>
<rect x="365.45" y="123.40" width="8.17" height="24.15" fill="#f4c8bc"/>
<rect x="373.02" y="123.40" width="8.17" height="24.15" fill="#ecf0f7"/>
<rect x="380.59" y="123.40" width="7.57" height="24.15" fill="#ffffff"/>
<rect x="342.74" y="146.95" width="8.17" height="24.15" fill="#fdf6f5"/>
<rect x="350.31" y="146.95" width="8.17" height="24.15" fill="#ffffff"/>
<rect x="357.88" y="146.95" width="8.17" height="24.15" fill="#ffffff"/>
<rect x="365.45" y="146.95" width="8.17" height="24.15" fill="#fefcfc"/>
<rect x="373.02" y="146.95" width="8.17" height="24.15" fill="#fbeae5"/>
<rect x="380.59" y="146.95" width="7.57" height="24.15" fill="#fefcfc"/>
<rect x="342.74" y="170.50" width="8.17" height="24.15" fill="#edaa9a"/>
<rect x="350.31" y="170.50" width="8.17" height="24.15" fill="#fdf6f5"/>
<rect x="357.88" y="170.50" width="8.17" height="24.15" fill="#d0dbec"/>
<rect x="365.45" y="170.50" width="8.17" height="24.15" fill="#f4ccc1"/>
<rect x="373.02" y="170.50" width="8.17" height="24.15" fill="#f7d9d0"/>
<rect x="380.59" y="170.50" width="7.57" height="24.15" fill="#fafbfd"/>
<rect x="342.74" y="194.05" width="8.17" height="24.15" fill="#f0b7a9"/>
<rect x="350.31" y="194.05" width="8.17" height="24.15" fill="#f9e1db"/>
<rect x="357.88" y="194.05" width="8.17" height="24.15" fill="#e3e9f4"/>
<rect x="365.45" y="194.05" width="8.17" height="24.15" fill="#f4c8bc"/>
<rect x="373.02" y="194.05" width="8.17" height="24.15" fill="#fae5e0"/>
<rect x="380.59" y="194.05" width="7.57" height="24.15" fill="#dee6f2"/>
<rect x="342.74" y="217.60" width="8.17" height="24.15" fill="#dee6f2"/>
<rect x="350.31" y="217.60" width="8.17" height="24.15" fill="#f0b7a9"/>
<rect x="357.88" y="217.60" width="8.17" height="24.15" fill="#fbeeea"/>
<rect x="365.45" y="217.60" width="8.17" height="24.15" fill="#f1f4f9"/>
<rect x="373.02" y="217.60" width="8.17" height="24.15" fill="#d5deee"/>
<rect x="380.59" y="217.60" width="7.57" height="24.15" fill="#fbeae5"/>
<rect x="342.74" y="241.15" width="8.17" height="24.15" fill="#ffffff"/>
<rect x="350.31" y="241.15" width="8.17" height="24.15" fill="#f6f8fb"/>
<rect x="357.88" y="241.15" width="8.17" height="24.15" fill="#dae2f0"/>
<rect x="365.45" y="241.15" width="8.17" height="24.15" fill="#fefcfc"/>
<rect x="373.02" y="241.15" width="8.17" height="24.15" fill="#fae5e0"/>
<rect x="380.59" y="241.15" width="7.57" height="24.15" fill="#f2bfb2"/>
<rect x="342.74" y="264.70" width="8.17" height="24.15" fill="#dee6f2"/>
<rect x="350.31" y="264.70" width="8.17" height="24.15" fill="#f4ccc1"/>
<rect x="357.88" y="264.70" width="8.17" height="24.15" fill="#fbeeea"/>
<rect x="365.45" y="264.70" width="8.17" height="24.15" fill="#f6f8fb"/>
<rect x="373.02" y="264.70" width="8.17" height="24.15" fill="#dae2f0"/>
<rect x="380.59" y="264.70" width="7.57" height="24.15" fill="#fbeeea"/>
<rect x="342.74" y="288.25" width="8.17" height="23.55" fill="#becce4"/>
<rect x="350.31" y="288.25" width="8.17" height="23.55" fill="#fefbfa"/>
<rect x="357.88" y="288.25" width="8.17" height="23.55" fill="#fefcfc"/>
<rect x="365.45" y="288.25" width="8.17" height="23.55" fill="#d5deee"/>
<rect x="373.02" y="288.25" width="8.17" height="23.55" fill="#fafbfd"/>
<rect x="380.59" y="288.25" width="7.57" height="23.55" fill="#fcf2ef"/>
<rect x="391.56" y="29.20" width="8.17" height="24.15" fill="#f3c3b7"/>
<rect x="399.13" y="29.20" width="8.17" height="24.15" fill="#fcf2ef"/>
<rect x="406.70" y="29.20" width="8.17" height="24.15" fill="#f4ccc1"/>
<rect x="414.27" y="29.20" width="8.17" height="24.15" fill="#f9e1db"/>
<rect x="421.84" y="29.20" width="8.17" height="24.15" fill="#fefcfc"/>
<rect x="429.41" y="29.20" width="8.17" height="24.15" fill="#e3e9f4"/>
<rect x="436.98" y="29.20" width="8.17" height="24.15" fill="#fef8f7"/>
<rect x="444.55" y="29.20" width="8.17" height="24.15" fill="#fefbfa"/>
<rect x="452.12" y="29.20" width="7.57" height="24.15" fill="#d5deee"/>
<rect x="391.56" y="52.75" width="8.17" height="24.15" fill="#edaa9a"/>
<rect x="399.13" y="52.75" width="8.17" height="24.15" fill="#f7d9d0"/>
<rect x="406.70" y="52.75" width="8.17" height="24.15" fill="#f4c8bc"/>
<rect x="414.27" y="52.75" width="8.17" height="24.15" fill="#f6d4cb"/>
<rect x="421.84" y="52.75" width="8.17" height="24.15" fill="#fefbfa"/>
<rect x="429.41" y="52.75" width="8.17" height="24.15" fill="#ffffff"/>
<rect x="436.98" y="52.75" width="8.17" height="24.15" fill="#fafbfd"/>
<rect x="444.55" y="52.75" width="8.17" height="24.15" fill="#fdf6f5"/>
<rect x="452.12" y="52.75" width="7.57" height="24.15" fill="#dee6f2"/>
<rect x="391.56" y="76.30" width="8.17" height="24.15" fill="#f8ddd6"/>
<rect x="399.13" y="76.30" width="8.17" height="24.15" fill="#fbeeea"/>
<rect x="406.70" y="76.30" width="8.17" height="24.15" fill="#fdf6f5"/>
<rect x="414.27" y="76.30" width="8.17" height="24.15" fill="#fdf6f5"/>
<rect x="421.84" y="76.30" width="8.17" height="24.15" fill="#f4ccc1"/>
<rect x="429.41" y="76.30" width="8.17" height="24.15" fill="#eeae9f"/>
<rect x="436.98" y="76.30" width="8.17" height="24.15" fill="#d0dbec"/>
<rect x="444.55" y="76.30" width="8.17" height="24.15" fill="#fae5e0"/>
<rect x="452.12" y="76.30" width="7.57" height="24.15" fill="#fafbfd"/>
<rect x="391.56" y="99.85" width="8.17" height="24.15" fill="#f7d9d0"/>
<rect x="399.13" y="99.85" width="8.17" height="24.15" fill="#fae5e0"/>
<rect x="406.70" y="99.85" width="8.17" height="24.15" fill="#ecf0f7"/>
<rect x="414.27" y="99.85" width="8.17" height="24.15" fill="#ecf0f7"/>
<rect x="421.84" y="99.85" width="8.17" height="24.15" fill="#efb2a4"/>
<rect x="429.41" y="99.85" width="8.17" height="24.15" fill="#fafbfd"/>
<rect x="436.98" y="99.85" width="8.17" height="24.15" fill="#ffffff"/>
<rect x="444.55" y="99.85" width="8.17" height="24.15" fill="#fcf2ef"/>
<rect x="452.12" y="99.85" width="7.57" height="24.15" fill="#f8ddd6"/>
<rect x="391.56" y="123.40" width="8.17" height="24.15" fill="#e8907d"/>
<rect x="399.13" y="123.40" width="8.17" height="24.15" fill="#fefbfa"/>
<rect x="406.70" y="123.40" width="8.17" height="24.15" fill="#f8ddd6"/>
<rect x="414.27" y="123.40" width="8.17" height="24.15" fill="#fae5e0"/>
<rect x="421.84" y="123.40" width="8.17" height="24.15" fill="#fae5e0"/>
<rect x="429.41" y="123.40" width="8.17" height="24.15" fill="#dee6f2"/>
<rect x="436.98" y="123.40" width="8.17" height="24.15" fill="#e3e9f4"/>
<rect x="444.55" y="123.40" width="8.17" height="24.15" fill="#fefbfa"/>
<rect x="452.12" y="123.40" width="7.57" height="24.15" fill="#fafbfd"/>
<rect x="391.56" y="146.95" width="8.17" height="24.15" fill="#fbeeea"/>
<rect x="399.13" y="146.95" width="8.17" height="24.15" fill="#fcf2ef"/>
<rect x="406.70" y="146.95" width="8.17" height="24.15" fill="#fefcfc"/>
<rect x="414.27" y="146.95" width="8.17" height="24.15" fill="#fae5e0"/>
<rect x="421.84" y="146.95" width="8.17" height="24.15" fill="#f4c8bc"/>
<rect x="429.41" y="146.95" width="8.17" height="24.15" fill="#fdf6f5"/>
<rect x="436.98" y="146.95" width="8.17" height="24.15" fill="#fbeae5"/>
<rect x="444.55" y="146.95" width="8.17" height="24.15" fill="#f9e1db"/>
<rect x="452.12" y="146.95" width="7.57" height="24.15" fill="#f1f4f9"/>
<rect x="391.56" y="170.50" width="8.17" height="24.15" fill="#edaa9a"/>
<rect x="399.13" y="170.50" width="8.17" height="24.15" fill="#fae5e0"/>
<rect x="406.70" y="170.50" width="8.17" height="24.15" fill="#f9e1db"/>
<rect x="414.27" y="170.50" width="8.17" height="24.15" fill="#fbeeea"/>
<rect x="421.84" y="170.50" width="8.17" height="24.15" fill="#eca190"/>
<rect x="429.41" y="170.50" width="8.17" height="24.15" fill="#f9e1db"/>
<rect x="436.98" y="170.50" width="8.17" height="24.15" fill="#ccd7ea"/>
<rect x="444.55" y="170.50" width="8.17" height="24.15" fill="#fefbfa"/>
<rect x="452.12" y="170.50" width="7.57" height="24.15" fill="#e6ecf5"/>
<rect x="391.56" y="194.05" width="8.17" height="24.15" fill="#ea9987"/>
<rect x="399.13" y="194.05" width="8.17" height="24.15" fill="#fefbfa"/>
<rect x="406.70" y="194.05" width="8.17" height="24.15" fill="#fbeae5"/>
<rect x="414.27" y="194.05" width="8.17" height="24.15" fill="#ffffff"/>
<rect x="421.84" y="194.05" width="8.17" height="24.15" fill="#edaa9a"/>
<rect x="429.41" y="194.05" width="8.17" height="24.15" fill="#fcf2ef"/>
<rect x="436.98" y="194.05" width="8.17" height="24.15" fill="#dee5f1"/>
<rect x="444.55" y="194.05" width="8.17" height="24.15" fill="#fdf6f5"/>
<rect x="452.12" y="194.05" width="7.57" height="24.15" fill="#fafbfd"/>
<rect x="391.56" y="217.60" width="8.17" height="24.15" fill="#c8d4e8"/>
<rect x="399.13" y="217.60" width="8.17" height="24.15" fill="#f6d4cb"/>
<rect x="406.70" y="217.60" width="8.17" height="24.15" fill="#f6f8fb"/>
<rect x="414.27" y="217.60" width="8.17" height="24.15" fill="#fbeeea"/>
<rect x="421.84" y="217.60" width="8.17" height="24.15" fill="#fefcfc"/>
<rect x="429.41" y="217.60" width="8.17" height="24.15" fill="#dae2f0"/>
<rect x="436.98" y="217.60" width="8.17" height="24.15" fill="#f0b7a9"/>
<rect x="444.55" y="217.60" width="8.17" height="24.15" fill="#fefbfa"/>
<rect x="452.12" y="217.60" width="7.57" height="24.15" fill="#fbeeea"/>
<rect x="391.56" y="241.15" width="8.17" height="24.15" fill="#fbeae5"/>
<rect x="399.13" y="241.15" width="8.17" height="24.15" fill="#fefcfc"/>
<rect x="406.70" y="241.15" width="8.17" height="24.15" fill="#fafbfd"/>
<rect x="414.27" y="241.15" width="8.17" height="24.15" fill="#f0b7a9"/>
<rect x="421.84" y="241.15" width="8.17" height="24.15" fill="#fae5e0"/>
<rect x="429.41" y="241.15" width="8.17" height="24.15" fill="#f9e1db"/>
<rect x="436.98" y="241.15" width="8.17" height="24.15" fill="#fefbfa"/>
<rect x="444.55" y="241.15" width="8.17" height="24.15" fill="#fae5e0"/>
<rect x="452.12" y="241.15" width="7.57" height="24.15" fill="#d5deee"/>
<rect x="391.56" y="264.70" width="8.17" height="24.15" fill="#f1f4f9"/>
<rect x="399.13" y="264.70" width="8.17" height="24.15" fill="#f5d0c6"/>
<rect x="406.70" y="264.70" width="8.17" height="24.15" fill="#ecf0f7"/>
<rect x="414.27" y="264.70" width="8.17" height="24.15" fill="#fbeae5"/>
<rect x="421.84" y="264.70" width="8.17" height="24.15" fill="#fafbfd"/>
<rect x="429.41" y="264.70" width="8.17" height="24.15" fill="#cfd9eb"/>
<rect x="436.98" y="264.70" width="8.17" height="24.15" fill="#efb2a4"/>
<rect x="444.55" y="264.70" width="8.17" height="24.15" fill="#fefcfc"/>
<rect x="452.12" y="264.70" width="7.57" height="24.15" fill="#fae5e0"/>
<rect x="391.56" y="288.25" width="8.17" height="23.55" fill="#c8d4e8"/>
<rect x="399.13" y="288.25" width="8.17" height="23.55" fill="#fbeae5"/>
<rect x="406.70" y="288.25" width="8.17" height="23.55" fill="#c8d4e8"/>
<rect x="414.27" y="288.25" width="8.17" height="23.55" fill="#f9e1db"/>
<rect x="421.84" y="288.25" width="8.17" height="23.55" fill="#f6f8fb"/>
<rect x="429.41" y="288.25" width="8.17" height="23.55" fill="#f1f4f9"/>
<rect x="436.98" y="288.25" width="8.17" height="23.55" fill="#f4ccc1"/>
<rect x="444.55" y="288.25" width="8.17" height="23.55" fill="#fcf2ef"/>
<rect x="452.12" y="288.25" width="7.57" height="23.55" fill="#ecf0f7"/>
<rect x="463.09" y="29.20" width="8.17" height="24.15" fill="#f4ccc1"/>
<rect x="470.66" y="29.20" width="8.17" height="24.15" fill="#fafbfd"/>
<rect x="478.23" y="29.20" width="8.17" height="24.15" fill="#fafbfd"/>
<rect x="485.80" y="29.20" width="8.17" height="24.15" fill="#ffffff"/>
<rect x="493.37" y="29.20" width="7.57" height="24.15" fill="#fdf6f5"/>
<rect x="463.09" y="52.75" width="8.17" height="24.15" fill="#f5d0c6"/>
<rect x="470.66" y="52.75" width="8.17" height="24.15" fill="#fbeeea"/>
<rect x="478.23" y="52.75" width="8.17" height="24.15" fill="#fbeae5"/>
<rect x="485.80" y="52.75" width="8.17" height="24.15" fill="#fbeae5"/>
<rect x="493.37" y="52.75" width="7.57" height="24.15" fill="#fbeeea"/>
<rect x="463.09" y="76.30" width="8.17" height="24.15" fill="#fefbfa"/>
<rect x="470.66" y="76.30" width="8.17" height="24.15" fill="#f1bbad"/>
<rect x="478.23" y="76.30" width="8.17" height="24.15" fill="#f0b7a9"/>
<rect x="485.80" y="76.30" width="8.17" height="24.15" fill="#f8ddd6"/>
<rect x="493.37" y="76.30" width="7.57" height="24.15" fill="#fae5e0"/>
<rect x="463.09" y="99.85" width="8.17" height="24.15" fill="#d0dbec"/>
<rect x="470.66" y="99.85" width="8.17" height="24.15" fill="#edaa9a"/>
<rect x="478.23" y="99.85" width="8.17" height="24.15" fill="#f8ddd6"/>
<rect x="485.80" y="99.85" width="8.17" height="24.15" fill="#fbeeea"/>
<rect x="493.37" y="99.85" width="7.57" height="24.15" fill="#f0b7a9"/>
<rect x="463.09" y="123.40" width="8.17" height="24.15" fill="#ffffff"/>
<rect x="470.66" y="123.40" width="8.17" height="24.15" fill="#f4c8bc"/>
<rect x="478.23" y="123.40" width="8.17" height="24.15" fill="#fae5e0"/>
<rect x="485.80" y="123.40" width="8.17" height="24.15" fill="#fbeae5"/>
<rect x="493.37" y="123.40" width="7.57" height="24.15" fill="#fbeae5"/>
<rect x="463.09" y="146.95" width="8.17" height="24.15" fill="#fafbfd"/>
<rect x="470.66" y="146.95" width="8.17" height="24.15" fill="#f8ddd6"/>
<rect x="478.23" y="146.95" width="8.17" height="24.15" fill="#f8ddd6"/>
<rect x="485.80" y="146.95" width="8.17" height="24.15" fill="#e8ecf5"/>
<rect x="493.37" y="146.95" width="7.57" height="24.15" fill="#fdf6f5"/>
<rect x="463.09" y="170.50" width="8.17" height="24.15" fill="#fdf6f5"/>
<rect x="470.66" y="170.50" width="8.17" height="24.15" fill="#f1bbad"/>
<rect x="478.23" y="170.50" width="8.17" height="24.15" fill="#efb2a4"/>
<rect x="485.80" y="170.50" width="8.17" height="24.15" fill="#f2bfb2"/>
<rect x="493.37" y="170.50" width="7.57" height="24.15" fill="#f6d4cb"/>
<rect x="463.09" y="194.05" width="8.17" height="24.15" fill="#fbeae5"/>
<rect x="470.66" y="194.05" width="8.17" height="24.15" fill="#f0b7a9"/>
<rect x="478.23" y="194.05" width="8.17" height="24.15" fill="#f2bfb2"/>
<rect x="485.80" y="194.05" width="8.17" height="24.15" fill="#f3c3b7"/>
<rect x="493.37" y="194.05" width="7.57" height="24.15" fill="#f6d4cb"/>
<rect x="463.09" y="217.60" width="8.17" height="24.15" fill="#becce4"/>
<rect x="470.66" y="217.60" width="8.17" height="24.15" fill="#f6d4cb"/>
<rect x="478.23" y="217.60" width="8.17" height="24.15" fill="#dae2f0"/>
<rect x="485.80" y="217.60" width="8.17" height="24.15" fill="#ffffff"/>
<rect x="493.37" y="217.60" width="7.57" height="24.15" fill="#fcf2ef"/>
<rect x="463.09" y="241.15" width="8.17" height="24.15" fill="#fbeeea"/>
<rect x="470.66" y="241.15" width="8.17" height="24.15" fill="#f4ccc1"/>
<rect x="478.23" y="241.15" width="8.17" height="24.15" fill="#f3c3b7"/>
<rect x="485.80" y="241.15" width="8.17" height="24.15" fill="#fbeae5"/>
<rect x="493.37" y="241.15" width="7.57" height="24.15" fill="#fbeae5"/>
<rect x="463.09" y="264.70" width="8.17" height="24.15" fill="#d0dbec"/>
<rect x="470.66" y="264.70" width="8.17" height="24.15" fill="#fefbfa"/>
<rect x="478.23" y="264.70" width="8.17" height="24.15" fill="#d5deee"/>
<rect x="485.80" y="264.70" width="8.17" height="24.15" fill="#f6f8fb"/>
<rect x="493.37" y="264.70" width="7.57" height="24.15" fill="#f6d4cb"/>
<rect x="463.09" y="288.25" width="8.17" height="23.55" fill="#b0c2de"/>
<rect x="470.66" y="288.25" width="8.17" height="23.55" fill="#fefbfa"/>
<rect x="478.23" y="288.25" width="8.17" height="23.55" fill="#ecf0f7"/>
<rect x="485.80" y="288.25" width="8.17" height="23.55" fill="#e8ecf5"/>
<rect x="493.37" y="288.25" width="7.57" height="23.55" fill="#fbeeea"/>
<rect x="504.34" y="29.20" width="8.17" height="24.15" fill="#eca190"/>
<rect x="511.91" y="29.20" width="8.17" height="24.15" fill="#f4ccc1"/>
<rect x="519.48" y="29.20" width="8.17" height="24.15" fill="#fafbfd"/>
<rect x="527.05" y="29.20" width="8.17" height="24.15" fill="#fbeeea"/>
<rect x="534.62" y="29.20" width="8.17" height="24.15" fill="#fafbfd"/>
<rect x="542.19" y="29.20" width="7.57" height="24.15" fill="#fbeeea"/>
<rect x="504.34" y="52.75" width="8.17" height="24.15" fill="#e16c59"/>
<rect x="511.91" y="52.75" width="8.17" height="24.15" fill="#f3c3b7"/>
<rect x="519.48" y="52.75" width="8.17" height="24.15" fill="#f9e1db"/>
<rect x="527.05" y="52.75" width="8.17" height="24.15" fill="#fdf6f5"/>
<rect x="534.62" y="52.75" width="8.17" height="24.15" fill="#fafbfd"/>
<rect x="542.19" y="52.75" width="7.57" height="24.15" fill="#f7d9d0"/>
<rect x="504.34" y="76.30" width="8.17" height="24.15" fill="#ffffff"/>
<rect x="511.91" y="76.30" width="8.17" height="24.15" fill="#fefcfc"/>
<rect x="519.48" y="76.30" width="8.17" height="24.15" fill="#f9e1db"/>
<rect x="527.05" y="76.30" width="8.17" height="24.15" fill="#fbeeea"/>
<rect x="534.62" y="76.30" width="8.17" height="24.15" fill="#fefbfa"/>
<rect x="542.19" y="76.30" width="7.57" height="24.15" fill="#fae5e0"/>
<rect x="504.34" y="99.85" width="8.17" height="24.15" fill="#fdf6f5"/>
<rect x="511.91" y="99.85" width="8.17" height="24.15" fill="#f1f4f9"/>
<rect x="519.48" y="99.85" width="8.17" height="24.15" fill="#f2bfb2"/>
<rect x="527.05" y="99.85" width="8.17" height="24.15" fill="#f9e1db"/>
<rect x="534.62" y="99.85" width="8.17" height="24.15" fill="#edaa9a"/>
<rect x="542.19" y="99.85" width="7.57" height="24.15" fill="#f8f9fc"/>
<rect x="504.34" y="123.40" width="8.17" height="24.15" fill="#e68774"/>
<rect x="511.91" y="123.40" width="8.17" height="24.15" fill="#f4ccc1"/>
<rect x="519.48" y="123.40" width="8.17" height="24.15" fill="#f7d9d0"/>
<rect x="527.05" y="123.40" width="8.17" height="24.15" fill="#f6d4cb"/>
<rect x="534.62" y="123.40" width="8.17" height="24.15" fill="#ffffff"/>
<rect x="542.19" y="123.40" width="7.57" height="24.15" fill="#fbeeea"/>
<rect x="504.34" y="146.95" width="8.17" height="24.15" fill="#fcf2ef"/>
<rect x="511.91" y="146.95" width="8.17" height="24.15" fill="#fbeeea"/>
<rect x="519.48" y="146.95" width="8.17" height="24.15" fill="#fefcfc"/>
<rect x="527.05" y="146.95" width="8.17" height="24.15" fill="#fae5e0"/>
<rect x="534.62" y="146.95" width="8.17" height="24.15" fill="#f6d4cb"/>
<rect x="542.19" y="146.95" width="7.57" height="24.15" fill="#fcf2ef"/>
<rect x="504.34" y="170.50" width="8.17" height="24.15" fill="#f6d4cb"/>
<rect x="511.91" y="170.50" width="8.17" height="24.15" fill="#f7d9d0"/>
<rect x="519.48" y="170.50" width="8.17" height="24.15" fill="#f9e1db"/>
<rect x="527.05" y="170.50" width="8.17" height="24.15" fill="#f6d4cb"/>
<rect x="534.62" y="170.50" width="8.17" height="24.15" fill="#fbeeea"/>
<rect x="542.19" y="170.50" width="7.57" height="24.15" fill="#f9e1db"/>
<rect x="504.34" y="194.05" width="8.17" height="24.15" fill="#eca190"/>
<rect x="511.91" y="194.05" width="8.17" height="24.15" fill="#fae5e0"/>
<rect x="519.48" y="194.05" width="8.17" height="24.15" fill="#f6d4cb"/>
<rect x="527.05" y="194.05" width="8.17" height="24.15" fill="#f5d0c6"/>
<rect x="534.62" y="194.05" width="8.17" height="24.15" fill="#f5d0c6"/>
<rect x="542.19" y="194.05" width="7.57" height="24.15" fill="#fbeeea"/>
<rect x="504.34" y="217.60" width="8.17" height="24.15" fill="#dee6f2"/>
<rect x="511.91" y="217.60" width="8.17" height="24.15" fill="#f6f8fb"/>
<rect x="519.48" y="217.60" width="8.17" height="24.15" fill="#fcf2ef"/>
<rect x="527.05" y="217.60" width="8.17" height="24.15" fill="#f6f8fb"/>
<rect x="534.62" y="217.60" width="8.17" height="24.15" fill="#fbeeea"/>
<rect x="542.19" y="217.60" width="7.57" height="24.15" fill="#fae5e0"/>
<rect x="504.34" y="241.15" width="8.17" height="24.15" fill="#fbeae5"/>
<rect x="511.91" y="241.15" width="8.17" height="24.15" fill="#f6d4cb"/>
<rect x="519.48" y="241.15" width="8.17" height="24.15" fill="#fefbfa"/>
<rect x="527.05" y="241.15" width="8.17" height="24.15" fill="#fafbfd"/>
<rect x="534.62" y="241.15" width="8.17" height="24.15" fill="#fbeeea"/>
<rect x="542.19" y="241.15" width="7.57" height="24.15" fill="#fbeeea"/>
<rect x="504.34" y="264.70" width="8.17" height="24.15" fill="#ecf0f7"/>
<rect x="511.91" y="264.70" width="8.17" height="24.15" fill="#fefcfc"/>
<rect x="519.48" y="264.70" width="8.17" height="24.15" fill="#fbeeea"/>
<rect x="527.05" y="264.70" width="8.17" height="24.15" fill="#fbeae5"/>
<rect x="534.62" y="264.70" width="8.17" height="24.15" fill="#f2bfb2"/>
<rect x="542.19" y="264.70" width="7.57" height="24.15" fill="#ffffff"/>
<rect x="504.34" y="288.25" width="8.17" height="23.55" fill="#dae2f0"/>
<rect x="511.91" y="288.25" width="8.17" height="23.55" fill="#f6f8fb"/>
<rect x="519.48" y="288.25" width="8.17" height="23.55" fill="#f6f8fb"/>
<rect x="527.05" y="288.25" width="8.17" height="23.55" fill="#ecf0f7"/>
<rect x="534.62" y="288.25" width="8.17" height="23.55" fill="#f4ccc1"/>
<rect x="542.19" y="288.25" width="7.57" height="23.55" fill="#fefcfc"/>
<rect x="553.16" y="29.20" width="8.17" height="24.15" fill="#fefbfa"/>
<rect x="560.73" y="29.20" width="8.17" height="24.15" fill="#fafbfd"/>
<rect x="568.30" y="29.20" width="7.57" height="24.15" fill="#f8ddd6"/>
<rect x="553.16" y="52.75" width="8.17" height="24.15" fill="#dee6f2"/>
<rect x="560.73" y="52.75" width="8.17" height="24.15" fill="#fcf2ef"/>
<rect x="568.30" y="52.75" width="7.57" height="24.15" fill="#f6d4cb"/>
<rect x="553.16" y="76.30" width="8.17" height="24.15" fill="#bac8e2"/>
<rect x="560.73" y="76.30" width="8.17" height="24.15" fill="#f0b7a9"/>
<rect x="568.30" y="76.30" width="7.57" height="24.15" fill="#f7d9d0"/>
<rect x="553.16" y="99.85" width="8.17" height="24.15" fill="#dae2f0"/>
<rect x="560.73" y="99.85" width="8.17" height="24.15" fill="#eca695"/>
<rect x="568.30" y="99.85" width="7.57" height="24.15" fill="#ecf0f7"/>
<rect x="553.16" y="123.40" width="8.17" height="24.15" fill="#f1f4f9"/>
<rect x="560.73" y="123.40" width="8.17" height="24.15" fill="#f5d0c6"/>
<rect x="568.30" y="123.40" width="7.57" height="24.15" fill="#fefaf9"/>
<rect x="553.16" y="146.95" width="8.17" height="24.15" fill="#b5c6e0"/>
<rect x="560.73" y="146.95" width="8.17" height="24.15" fill="#fae5e0"/>
<rect x="568.30" y="146.95" width="7.57" height="24.15" fill="#fae5e0"/>
<rect x="553.16" y="170.50" width="8.17" height="24.15" fill="#ccd7ea"/>
<rect x="560.73" y="170.50" width="8.17" height="24.15" fill="#edaa9a"/>
<rect x="568.30" y="170.50" width="7.57" height="24.15" fill="#f9e1db"/>
<rect x="553.16" y="194.05" width="8.17" height="24.15" fill="#e3e9f4"/>
<rect x="560.73" y="194.05" width="8.17" height="24.15" fill="#eeae9f"/>
<rect x="568.30" y="194.05" width="7.57" height="24.15" fill="#fbeeea"/>
<rect x="553.16" y="217.60" width="8.17" height="24.15" fill="#fcf2ef"/>
<rect x="560.73" y="217.60" width="8.17" height="24.15" fill="#f6f8fb"/>
<rect x="568.30" y="217.60" width="7.57" height="24.15" fill="#fafbfd"/>
<rect x="553.16" y="241.15" width="8.17" height="24.15" fill="#bac8e2"/>
<rect x="560.73" y="241.15" width="8.17" height="24.15" fill="#f5d0c6"/>
<rect x="568.30" y="241.15" width="7.57" height="24.15" fill="#f6d4cb"/>
<rect x="553.16" y="264.70" width="8.17" height="24.15" fill="#fbeeea"/>
<rect x="560.73" y="264.70" width="8.17" height="24.15" fill="#f6f8fb"/>
<rect x="568.30" y="264.70" width="7.57" height="24.15" fill="#f6f8fb"/>
<rect x="553.16" y="288.25" width="8.17" height="23.55" fill="#b5c6e0"/>
<rect x="560.73" y="288.25" width="8.17" height="23.55" fill="#f1f4f9"/>
<rect x="568.30" y="288.25" width="7.57" height="23.55" fill="#fefcfc"/>
<path fill="#111" d="M4.55,38.18L4.99,39.07L5.98,39.21L5.26,39.91L5.43,40.89L4.55,40.43L3.67,40.89L3.84,39.91L3.12,39.21L4.11,39.07ZM27.28,38.18L27.72,39.07L28.70,39.21L27.99,39.91L28.16,40.89L27.28,40.43L26.39,40.89L26.56,39.91L25.85,39.21L26.84,39.07ZM34.85,38.18L35.29,39.07L36.28,39.21L35.57,39.91L35.73,40.89L34.85,40.43L33.97,40.89L34.14,39.91L33.43,39.21L34.41,39.07ZM4.55,61.73L4.99,62.62L5.98,62.76L5.26,63.46L5.43,64.44L4.55,63.98L3.67,64.44L3.84,63.46L3.12,62.76L4.11,62.62ZM27.28,61.73L27.72,62.62L28.70,62.76L27.99,63.46L28.16,64.44L27.28,63.98L26.39,64.44L26.56,63.46L25.85,62.76L26.84,62.62ZM34.85,61.73L35.29,62.62L36.28,62.76L35.57,63.46L35.73,64.44L34.85,63.98L33.97,64.44L34.14,63.46L33.43,62.76L34.41,62.62ZM19.70,108.83L20.14,109.72L21.13,109.86L20.41,110.56L20.58,111.54L19.70,111.08L18.82,111.54L18.99,110.56L18.27,109.86L19.26,109.72ZM4.55,132.38L4.99,133.27L5.98,133.41L5.26,134.11L5.43,135.09L4.55,134.62L3.67,135.09L3.84,134.11L3.12,133.41L4.11,133.27ZM34.85,132.38L35.29,133.27L36.28,133.41L35.57,134.11L35.73,135.09L34.85,134.62L33.97,135.09L34.14,134.11L33.43,133.41L34.41,133.27ZM19.70,179.47L20.14,180.37L21.13,180.51L20.41,181.21L20.58,182.19L19.70,181.72L18.82,182.19L18.99,181.21L18.27,180.51L19.26,180.37ZM27.28,179.47L27.72,180.37L28.70,180.51L27.99,181.21L28.16,182.19L27.28,181.72L26.39,182.19L26.56,181.21L25.85,180.51L26.84,180.37ZM4.55,203.02L4.99,203.92L5.98,204.06L5.26,204.76L5.43,205.74L4.55,205.27L3.67,205.74L3.84,204.76L3.12,204.06L4.11,203.92ZM19.70,203.02L20.14,203.92L21.13,204.06L20.41,204.76L20.58,205.74L19.70,205.27L18.82,205.74L18.99,204.76L18.27,204.06L19.26,203.92ZM27.28,203.02L27.72,203.92L28.70,204.06L27.99,204.76L28.16,205.74L27.28,205.27L26.39,205.74L26.56,204.76L25.85,204.06L26.84,203.92ZM27.28,226.57L27.72,227.47L28.70,227.61L27.99,228.31L28.16,229.29L27.28,228.82L26.39,229.29L26.56,228.31L25.85,227.61L26.84,227.47ZM27.28,250.12L27.72,251.02L28.70,251.16L27.99,251.86L28.16,252.84L27.28,252.38L26.39,252.84L26.56,251.86L25.85,251.16L26.84,251.02ZM45.83,38.18L46.27,39.07L47.26,39.21L46.54,39.91L46.71,40.89L45.83,40.43L44.95,40.89L45.12,39.91L44.40,39.21L45.39,39.07ZM45.83,61.73L46.27,62.62L47.26,62.76L46.54,63.46L46.71,64.44L45.83,63.98L44.95,64.44L45.12,63.46L44.40,62.76L45.39,62.62ZM53.41,61.73L53.85,62.62L54.83,62.76L54.12,63.46L54.29,64.44L53.41,63.98L52.53,64.44L52.69,63.46L51.98,62.76L52.97,62.62ZM53.41,85.28L53.85,86.17L54.83,86.31L54.12,87.01L54.29,87.99L53.41,87.53L52.53,87.99L52.69,87.01L51.98,86.31L52.97,86.17ZM53.41,108.83L53.85,109.72L54.83,109.86L54.12,110.56L54.29,111.54L53.41,111.08L52.53,111.54L52.69,110.56L51.98,109.86L52.97,109.72ZM68.56,108.83L69.00,109.72L69.99,109.86L69.27,110.56L69.44,111.54L68.56,111.08L67.68,111.54L67.85,110.56L67.13,109.86L68.12,109.72ZM53.41,132.38L53.85,133.27L54.83,133.41L54.12,134.11L54.29,135.09L53.41,134.62L52.53,135.09L52.69,134.11L51.98,133.41L52.97,133.27ZM68.56,155.92L69.00,156.82L69.99,156.96L69.27,157.66L69.44,158.64L68.56,158.17L67.68,158.64L67.85,157.66L67.13,156.96L68.12,156.82ZM53.41,179.47L53.85,180.37L54.83,180.51L54.12,181.21L54.29,182.19L53.41,181.72L52.53,182.19L52.69,181.21L51.98,180.51L52.97,180.37ZM68.56,179.47L69.00,180.37L69.99,180.51L69.27,181.21L69.44,182.19L68.56,181.72L67.68,182.19L67.85,181.21L67.13,180.51L68.12,180.37ZM53.41,203.02L53.85,203.92L54.83,204.06L54.12,204.76L54.29,205.74L53.41,205.27L52.53,205.74L52.69,204.76L51.98,204.06L52.97,203.92ZM68.56,203.02L69.00,203.92L69.99,204.06L69.27,204.76L69.44,205.74L68.56,205.27L67.68,205.74L67.85,204.76L67.13,204.06L68.12,203.92ZM68.56,250.12L69.00,251.02L69.99,251.16L69.27,251.86L69.44,252.84L68.56,252.38L67.68,252.84L67.85,251.86L67.13,251.16L68.12,251.02ZM102.26,61.73L102.71,62.62L103.69,62.76L102.98,63.46L103.15,64.44L102.26,63.98L101.38,64.44L101.55,63.46L100.84,62.76L101.82,62.62ZM109.84,61.73L110.28,62.62L111.27,62.76L110.55,63.46L110.72,64.44L109.84,63.98L108.96,64.44L109.13,63.46L108.41,62.76L109.40,62.62ZM109.84,85.28L110.28,86.17L111.27,86.31L110.55,87.01L110.72,87.99L109.84,87.53L108.96,87.99L109.13,87.01L108.41,86.31L109.40,86.17ZM102.26,108.83L102.71,109.72L103.69,109.86L102.98,110.56L103.15,111.54L102.26,111.08L101.38,111.54L101.55,110.56L100.84,109.86L101.82,109.72ZM102.26,132.38L102.71,133.27L103.69,133.41L102.98,134.11L103.15,135.09L102.26,134.62L101.38,135.09L101.55,134.11L100.84,133.41L101.82,133.27ZM109.84,132.38L110.28,133.27L111.27,133.41L110.55,134.11L110.72,135.09L109.84,134.62L108.96,135.09L109.13,134.11L108.41,133.41L109.40,133.27ZM102.26,155.92L102.71,156.82L103.69,156.96L102.98,157.66L103.15,158.64L102.26,158.17L101.38,158.64L101.55,157.66L100.84,156.96L101.82,156.82ZM102.26,179.47L102.71,180.37L103.69,180.51L102.98,181.21L103.15,182.19L102.26,181.72L101.38,182.19L101.55,181.21L100.84,180.51L101.82,180.37ZM109.84,179.47L110.28,180.37L111.27,180.51L110.55,181.21L110.72,182.19L109.84,181.72L108.96,182.19L109.13,181.21L108.41,180.51L109.40,180.37ZM102.26,203.02L102.71,203.92L103.69,204.06L102.98,204.76L103.15,205.74L102.26,205.27L101.38,205.74L101.55,204.76L100.84,204.06L101.82,203.92ZM109.84,203.02L110.28,203.92L111.27,204.06L110.55,204.76L110.72,205.74L109.84,205.27L108.96,205.74L109.13,204.76L108.41,204.06L109.40,203.92ZM128.40,38.18L128.84,39.07L129.82,39.21L129.11,39.91L129.28,40.89L128.40,40.43L127.51,40.89L127.68,39.91L126.97,39.21L127.95,39.07ZM128.40,61.73L128.84,62.62L129.82,62.76L129.11,63.46L129.28,64.44L128.40,63.98L127.51,64.44L127.68,63.46L126.97,62.76L127.95,62.62ZM166.28,61.73L166.72,62.62L167.70,62.76L166.99,63.46L167.16,64.44L166.28,63.98L165.39,64.44L165.56,63.46L164.85,62.76L165.83,62.62ZM135.97,85.28L136.41,86.17L137.40,86.31L136.68,87.01L136.85,87.99L135.97,87.53L135.09,87.99L135.26,87.01L134.54,86.31L135.53,86.17ZM158.70,85.28L159.14,86.17L160.13,86.31L159.41,87.01L159.58,87.99L158.70,87.53L157.82,87.99L157.99,87.01L157.27,86.31L158.26,86.17ZM166.28,85.28L166.72,86.17L167.70,86.31L166.99,87.01L167.16,87.99L166.28,87.53L165.39,87.99L165.56,87.01L164.85,86.31L165.83,86.17ZM181.43,85.28L181.87,86.17L182.85,86.31L182.14,87.01L182.31,87.99L181.43,87.53L180.55,87.99L180.71,87.01L180.00,86.31L180.99,86.17ZM151.12,108.83L151.56,109.72L152.55,109.86L151.84,110.56L152.00,111.54L151.12,111.08L150.24,111.54L150.41,110.56L149.70,109.86L150.68,109.72ZM158.70,108.83L159.14,109.72L160.13,109.86L159.41,110.56L159.58,111.54L158.70,111.08L157.82,111.54L157.99,110.56L157.27,109.86L158.26,109.72ZM166.28,108.83L166.72,109.72L167.70,109.86L166.99,110.56L167.16,111.54L166.28,111.08L165.39,111.54L165.56,110.56L164.85,109.86L165.83,109.72ZM128.40,132.38L128.84,133.27L129.82,133.41L129.11,134.11L129.28,135.09L128.40,134.62L127.51,135.09L127.68,134.11L126.97,133.41L127.95,133.27ZM158.70,155.92L159.14,156.82L160.13,156.96L159.41,157.66L159.58,158.64L158.70,158.17L157.82,158.64L157.99,157.66L157.27,156.96L158.26,156.82ZM128.40,179.47L128.84,180.37L129.82,180.51L129.11,181.21L129.28,182.19L128.40,181.72L127.51,182.19L127.68,181.21L126.97,180.51L127.95,180.37ZM135.97,179.47L136.41,180.37L137.40,180.51L136.68,181.21L136.85,182.19L135.97,181.72L135.09,182.19L135.26,181.21L134.54,180.51L135.53,180.37ZM158.70,179.47L159.14,180.37L160.13,180.51L159.41,181.21L159.58,182.19L158.70,181.72L157.82,182.19L157.99,181.21L157.27,180.51L158.26,180.37ZM128.40,203.02L128.84,203.92L129.82,204.06L129.11,204.76L129.28,205.74L128.40,205.27L127.51,205.74L127.68,204.76L126.97,204.06L127.95,203.92ZM135.97,203.02L136.41,203.92L137.40,204.06L136.68,204.76L136.85,205.74L135.97,205.27L135.09,205.74L135.26,204.76L134.54,204.06L135.53,203.92ZM158.70,203.02L159.14,203.92L160.13,204.06L159.41,204.76L159.58,205.74L158.70,205.27L157.82,205.74L157.99,204.76L157.27,204.06L158.26,203.92ZM166.28,203.02L166.72,203.92L167.70,204.06L166.99,204.76L167.16,205.74L166.28,205.27L165.39,205.74L165.56,204.76L164.85,204.06L165.83,203.92ZM128.40,226.57L128.84,227.47L129.82,227.61L129.11,228.31L129.28,229.29L128.40,228.82L127.51,229.29L127.68,228.31L126.97,227.61L127.95,227.47ZM166.28,226.57L166.72,227.47L167.70,227.61L166.99,228.31L167.16,229.29L166.28,228.82L165.39,229.29L165.56,228.31L164.85,227.61L165.83,227.47ZM173.85,226.57L174.29,227.47L175.28,227.61L174.56,228.31L174.73,229.29L173.85,228.82L172.97,229.29L173.14,228.31L172.42,227.61L173.41,227.47ZM135.97,250.12L136.41,251.02L137.40,251.16L136.68,251.86L136.85,252.84L135.97,252.38L135.09,252.84L135.26,251.86L134.54,251.16L135.53,251.02ZM158.70,250.12L159.14,251.02L160.13,251.16L159.41,251.86L159.58,252.84L158.70,252.38L157.82,252.84L157.99,251.86L157.27,251.16L158.26,251.02ZM173.85,250.12L174.29,251.02L175.28,251.16L174.56,251.86L174.73,252.84L173.85,252.38L172.97,252.84L173.14,251.86L172.42,251.16L173.41,251.02ZM181.43,250.12L181.87,251.02L182.85,251.16L182.14,251.86L182.31,252.84L181.43,252.38L180.55,252.84L180.71,251.86L180.00,251.16L180.99,251.02ZM166.28,273.67L166.72,274.57L167.70,274.71L166.99,275.41L167.16,276.39L166.28,275.92L165.39,276.39L165.56,275.41L164.85,274.71L165.83,274.57ZM128.40,297.22L128.84,298.12L129.82,298.26L129.11,298.96L129.28,299.94L128.40,299.47L127.51,299.94L127.68,298.96L126.97,298.26L127.95,298.12ZM173.85,297.22L174.29,298.12L175.28,298.26L174.56,298.96L174.73,299.94L173.85,299.47L172.97,299.94L173.14,298.96L172.42,298.26L173.41,298.12ZM207.56,38.18L208.00,39.07L208.98,39.21L208.27,39.91L208.44,40.89L207.56,40.43L206.68,40.89L206.84,39.91L206.13,39.21L207.12,39.07ZM207.56,61.73L208.00,62.62L208.98,62.76L208.27,63.46L208.44,64.44L207.56,63.98L206.68,64.44L206.84,63.46L206.13,62.76L207.12,62.62ZM192.41,85.28L192.85,86.17L193.83,86.31L193.12,87.01L193.29,87.99L192.41,87.53L191.52,87.99L191.69,87.01L190.98,86.31L191.96,86.17ZM199.98,85.28L200.42,86.17L201.41,86.31L200.69,87.01L200.86,87.99L199.98,87.53L199.10,87.99L199.27,87.01L198.55,86.31L199.54,86.17ZM192.41,108.83L192.85,109.72L193.83,109.86L193.12,110.56L193.29,111.54L192.41,111.08L191.52,111.54L191.69,110.56L190.98,109.86L191.96,109.72ZM222.71,108.83L223.15,109.72L224.14,109.86L223.42,110.56L223.59,111.54L222.71,111.08L221.83,111.54L222.00,110.56L221.28,109.86L222.27,109.72ZM207.56,132.38L208.00,133.27L208.98,133.41L208.27,134.11L208.44,135.09L207.56,134.62L206.68,135.09L206.84,134.11L206.13,133.41L207.12,133.27ZM192.41,179.47L192.85,180.37L193.83,180.51L193.12,181.21L193.29,182.19L192.41,181.72L191.52,182.19L191.69,181.21L190.98,180.51L191.96,180.37ZM207.56,179.47L208.00,180.37L208.98,180.51L208.27,181.21L208.44,182.19L207.56,181.72L206.68,182.19L206.84,181.21L206.13,180.51L207.12,180.37ZM192.41,203.02L192.85,203.92L193.83,204.06L193.12,204.76L193.29,205.74L192.41,205.27L191.52,205.74L191.69,204.76L190.98,204.06L191.96,203.92ZM207.56,203.02L208.00,203.92L208.98,204.06L208.27,204.76L208.44,205.74L207.56,205.27L206.68,205.74L206.84,204.76L206.13,204.06L207.12,203.92ZM222.71,226.57L223.15,227.47L224.14,227.61L223.42,228.31L223.59,229.29L222.71,228.82L221.83,229.29L222.00,228.31L221.28,227.61L222.27,227.47ZM199.98,250.12L200.42,251.02L201.41,251.16L200.69,251.86L200.86,252.84L199.98,252.38L199.10,252.84L199.27,251.86L198.55,251.16L199.54,251.02ZM199.98,273.67L200.42,274.57L201.41,274.71L200.69,275.41L200.86,276.39L199.98,275.92L199.10,276.39L199.27,275.41L198.55,274.71L199.54,274.57ZM222.71,273.67L223.15,274.57L224.14,274.71L223.42,275.41L223.59,276.39L222.71,275.92L221.83,276.39L222.00,275.41L221.28,274.71L222.27,274.57ZM192.41,297.22L192.85,298.12L193.83,298.26L193.12,298.96L193.29,299.94L192.41,299.47L191.52,299.94L191.69,298.96L190.98,298.26L191.96,298.12ZM256.42,38.18L256.86,39.07L257.84,39.21L257.13,39.91L257.30,40.89L256.42,40.43L255.53,40.89L255.70,39.91L254.99,39.21L255.97,39.07ZM241.26,85.28L241.70,86.17L242.69,86.31L241.98,87.01L242.15,87.99L241.26,87.53L240.38,87.99L240.55,87.01L239.84,86.31L240.82,86.17ZM248.84,85.28L249.28,86.17L250.27,86.31L249.55,87.01L249.72,87.99L248.84,87.53L247.96,87.99L248.13,87.01L247.41,86.31L248.40,86.17ZM241.26,108.83L241.70,109.72L242.69,109.86L241.98,110.56L242.15,111.54L241.26,111.08L240.38,111.54L240.55,110.56L239.84,109.86L240.82,109.72ZM256.42,108.83L256.86,109.72L257.84,109.86L257.13,110.56L257.30,111.54L256.42,111.08L255.53,111.54L255.70,110.56L254.99,109.86L255.97,109.72ZM263.99,108.83L264.43,109.72L265.42,109.86L264.70,110.56L264.87,111.54L263.99,111.08L263.11,111.54L263.28,110.56L262.56,109.86L263.55,109.72ZM271.57,108.83L272.01,109.72L272.99,109.86L272.28,110.56L272.45,111.54L271.57,111.08L270.69,111.54L270.85,110.56L270.14,109.86L271.13,109.72ZM233.69,132.38L234.13,133.27L235.11,133.41L234.40,134.11L234.57,135.09L233.69,134.62L232.81,135.09L232.97,134.11L232.26,133.41L233.25,133.27ZM241.26,132.38L241.70,133.27L242.69,133.41L241.98,134.11L242.15,135.09L241.26,134.62L240.38,135.09L240.55,134.11L239.84,133.41L240.82,133.27ZM241.26,155.92L241.70,156.82L242.69,156.96L241.98,157.66L242.15,158.64L241.26,158.17L240.38,158.64L240.55,157.66L239.84,156.96L240.82,156.82ZM233.69,179.47L234.13,180.37L235.11,180.51L234.40,181.21L234.57,182.19L233.69,181.72L232.81,182.19L232.97,181.21L232.26,180.51L233.25,180.37ZM241.26,179.47L241.70,180.37L242.69,180.51L241.98,181.21L242.15,182.19L241.26,181.72L240.38,182.19L240.55,181.21L239.84,180.51L240.82,180.37ZM271.57,179.47L272.01,180.37L272.99,180.51L272.28,181.21L272.45,182.19L271.57,181.72L270.69,182.19L270.85,181.21L270.14,180.51L271.13,180.37ZM233.69,203.02L234.13,203.92L235.11,204.06L234.40,204.76L234.57,205.74L233.69,205.27L232.81,205.74L232.97,204.76L232.26,204.06L233.25,203.92ZM241.26,203.02L241.70,203.92L242.69,204.06L241.98,204.76L242.15,205.74L241.26,205.27L240.38,205.74L240.55,204.76L239.84,204.06L240.82,203.92ZM263.99,203.02L264.43,203.92L265.42,204.06L264.70,204.76L264.87,205.74L263.99,205.27L263.11,205.74L263.28,204.76L262.56,204.06L263.55,203.92ZM271.57,203.02L272.01,203.92L272.99,204.06L272.28,204.76L272.45,205.74L271.57,205.27L270.69,205.74L270.85,204.76L270.14,204.06L271.13,203.92ZM233.69,226.57L234.13,227.47L235.11,227.61L234.40,228.31L234.57,229.29L233.69,228.82L232.81,229.29L232.97,228.31L232.26,227.61L233.25,227.47ZM241.26,250.12L241.70,251.02L242.69,251.16L241.98,251.86L242.15,252.84L241.26,252.38L240.38,252.84L240.55,251.86L239.84,251.16L240.82,251.02ZM248.84,250.12L249.28,251.02L250.27,251.16L249.55,251.86L249.72,252.84L248.84,252.38L247.96,252.84L248.13,251.86L247.41,251.16L248.40,251.02ZM328.00,38.18L328.44,39.07L329.43,39.21L328.71,39.91L328.88,40.89L328.00,40.43L327.12,40.89L327.29,39.91L326.57,39.21L327.56,39.07ZM328.00,61.73L328.44,62.62L329.43,62.76L328.71,63.46L328.88,64.44L328.00,63.98L327.12,64.44L327.29,63.46L326.57,62.76L327.56,62.62ZM290.12,85.28L290.56,86.17L291.55,86.31L290.84,87.01L291.00,87.99L290.12,87.53L289.24,87.99L289.41,87.01L288.70,86.31L289.68,86.17ZM297.70,85.28L298.14,86.17L299.12,86.31L298.41,87.01L298.58,87.99L297.70,87.53L296.82,87.99L296.98,87.01L296.27,86.31L297.26,86.17ZM282.55,108.83L282.99,109.72L283.97,109.86L283.26,110.56L283.43,111.54L282.55,111.08L281.66,111.54L281.83,110.56L281.12,109.86L282.11,109.72ZM290.12,108.83L290.56,109.72L291.55,109.86L290.84,110.56L291.00,111.54L290.12,111.08L289.24,111.54L289.41,110.56L288.70,109.86L289.68,109.72ZM320.43,108.83L320.87,109.72L321.85,109.86L321.14,110.56L321.31,111.54L320.43,111.08L319.54,111.54L319.71,110.56L319.00,109.86L319.98,109.72ZM335.58,108.83L336.02,109.72L337.00,109.86L336.29,110.56L336.46,111.54L335.58,111.08L334.70,111.54L334.86,110.56L334.15,109.86L335.14,109.72ZM328.00,132.38L328.44,133.27L329.43,133.41L328.71,134.11L328.88,135.09L328.00,134.62L327.12,135.09L327.29,134.11L326.57,133.41L327.56,133.27ZM335.58,132.38L336.02,133.27L337.00,133.41L336.29,134.11L336.46,135.09L335.58,134.62L334.70,135.09L334.86,134.11L334.15,133.41L335.14,133.27ZM290.12,179.47L290.56,180.37L291.55,180.51L290.84,181.21L291.00,182.19L290.12,181.72L289.24,182.19L289.41,181.21L288.70,180.51L289.68,180.37ZM328.00,179.47L328.44,180.37L329.43,180.51L328.71,181.21L328.88,182.19L328.00,181.72L327.12,182.19L327.29,181.21L326.57,180.51L327.56,180.37ZM335.58,179.47L336.02,180.37L337.00,180.51L336.29,181.21L336.46,182.19L335.58,181.72L334.70,182.19L334.86,181.21L334.15,180.51L335.14,180.37ZM290.12,203.02L290.56,203.92L291.55,204.06L290.84,204.76L291.00,205.74L290.12,205.27L289.24,205.74L289.41,204.76L288.70,204.06L289.68,203.92ZM328.00,203.02L328.44,203.92L329.43,204.06L328.71,204.76L328.88,205.74L328.00,205.27L327.12,205.74L327.29,204.76L326.57,204.06L327.56,203.92ZM335.58,203.02L336.02,203.92L337.00,204.06L336.29,204.76L336.46,205.74L335.58,205.27L334.70,205.74L334.86,204.76L334.15,204.06L335.14,203.92ZM282.55,226.57L282.99,227.47L283.97,227.61L283.26,228.31L283.43,229.29L282.55,228.82L281.66,229.29L281.83,228.31L281.12,227.61L282.11,227.47ZM282.55,273.67L282.99,274.57L283.97,274.71L283.26,275.41L283.43,276.39L282.55,275.92L281.66,276.39L281.83,275.41L281.12,274.71L282.11,274.57ZM320.43,273.67L320.87,274.57L321.85,274.71L321.14,275.41L321.31,276.39L320.43,275.92L319.54,276.39L319.71,275.41L319.00,274.71L319.98,274.57ZM282.55,297.22L282.99,298.12L283.97,298.26L283.26,298.96L283.43,299.94L282.55,299.47L281.66,299.94L281.83,298.96L281.12,298.26L282.11,298.12ZM290.12,297.22L290.56,298.12L291.55,298.26L290.84,298.96L291.00,299.94L290.12,299.47L289.24,299.94L289.41,298.96L288.70,298.26L289.68,298.12ZM369.28,38.18L369.72,39.07L370.71,39.21L370.00,39.91L370.17,40.89L369.28,40.43L368.40,40.89L368.57,39.91L367.86,39.21L368.84,39.07ZM369.28,61.73L369.72,62.62L370.71,62.76L370.00,63.46L370.17,64.44L369.28,63.98L368.40,64.44L368.57,63.46L367.86,62.76L368.84,62.62ZM346.56,85.28L347.00,86.17L347.98,86.31L347.27,87.01L347.44,87.99L346.56,87.53L345.67,87.99L345.84,87.01L345.13,86.31L346.12,86.17ZM369.28,85.28L369.72,86.17L370.71,86.31L370.00,87.01L370.17,87.99L369.28,87.53L368.40,87.99L368.57,87.01L367.86,86.31L368.84,86.17ZM376.86,85.28L377.30,86.17L378.29,86.31L377.57,87.01L377.74,87.99L376.86,87.53L375.98,87.99L376.15,87.01L375.43,86.31L376.42,86.17ZM346.56,108.83L347.00,109.72L347.98,109.86L347.27,110.56L347.44,111.54L346.56,111.08L345.67,111.54L345.84,110.56L345.13,109.86L346.12,109.72ZM354.13,108.83L354.57,109.72L355.56,109.86L354.85,110.56L355.01,111.54L354.13,111.08L353.25,111.54L353.42,110.56L352.71,109.86L353.69,109.72ZM369.28,132.38L369.72,133.27L370.71,133.41L370.00,134.11L370.17,135.09L369.28,134.62L368.40,135.09L368.57,134.11L367.86,133.41L368.84,133.27ZM346.56,179.47L347.00,180.37L347.98,180.51L347.27,181.21L347.44,182.19L346.56,181.72L345.67,182.19L345.84,181.21L345.13,180.51L346.12,180.37ZM361.71,179.47L362.15,180.37L363.13,180.51L362.42,181.21L362.59,182.19L361.71,181.72L360.83,182.19L360.99,181.21L360.28,180.51L361.27,180.37ZM369.28,179.47L369.72,180.37L370.71,180.51L370.00,181.21L370.17,182.19L369.28,181.72L368.40,182.19L368.57,181.21L367.86,180.51L368.84,180.37ZM346.56,203.02L347.00,203.92L347.98,204.06L347.27,204.76L347.44,205.74L346.56,205.27L345.67,205.74L345.84,204.76L345.13,204.06L346.12,203.92ZM369.28,203.02L369.72,203.92L370.71,204.06L370.00,204.76L370.17,205.74L369.28,205.27L368.40,205.74L368.57,204.76L367.86,204.06L368.84,203.92ZM354.13,226.57L354.57,227.47L355.56,227.61L354.85,228.31L355.01,229.29L354.13,228.82L353.25,229.29L353.42,228.31L352.71,227.61L353.69,227.47ZM361.71,250.12L362.15,251.02L363.13,251.16L362.42,251.86L362.59,252.84L361.71,252.38L360.83,252.84L360.99,251.86L360.28,251.16L361.27,251.02ZM384.44,250.12L384.88,251.02L385.86,251.16L385.15,251.86L385.32,252.84L384.44,252.38L383.55,252.84L383.72,251.86L383.01,251.16L383.99,251.02ZM354.13,273.67L354.57,274.57L355.56,274.71L354.85,275.41L355.01,276.39L354.13,275.92L353.25,276.39L353.42,275.41L352.71,274.71L353.69,274.57ZM346.56,297.22L347.00,298.12L347.98,298.26L347.27,298.96L347.44,299.94L346.56,299.47L345.67,299.94L345.84,298.96L345.13,298.26L346.12,298.12ZM395.41,38.18L395.86,39.07L396.84,39.21L396.13,39.91L396.30,40.89L395.41,40.43L394.53,40.89L394.70,39.91L393.99,39.21L394.97,39.07ZM410.57,38.18L411.01,39.07L411.99,39.21L411.28,39.91L411.45,40.89L410.57,40.43L409.68,40.89L409.85,39.91L409.14,39.21L410.13,39.07ZM456.02,38.18L456.46,39.07L457.45,39.21L456.73,39.91L456.90,40.89L456.02,40.43L455.14,40.89L455.31,39.91L454.60,39.21L455.58,39.07ZM395.41,61.73L395.86,62.62L396.84,62.76L396.13,63.46L396.30,64.44L395.41,63.98L394.53,64.44L394.70,63.46L393.99,62.76L394.97,62.62ZM410.57,61.73L411.01,62.62L411.99,62.76L411.28,63.46L411.45,64.44L410.57,63.98L409.68,64.44L409.85,63.46L409.14,62.76L410.13,62.62ZM425.72,85.28L426.16,86.17L427.14,86.31L426.43,87.01L426.60,87.99L425.72,87.53L424.84,87.99L425.00,87.01L424.29,86.31L425.28,86.17ZM433.29,85.28L433.73,86.17L434.72,86.31L434.01,87.01L434.18,87.99L433.29,87.53L432.41,87.99L432.58,87.01L431.87,86.31L432.85,86.17ZM440.87,85.28L441.31,86.17L442.30,86.31L441.58,87.01L441.75,87.99L440.87,87.53L439.99,87.99L440.16,87.01L439.44,86.31L440.43,86.17ZM425.72,108.83L426.16,109.72L427.14,109.86L426.43,110.56L426.60,111.54L425.72,111.08L424.84,111.54L425.00,110.56L424.29,109.86L425.28,109.72ZM395.41,132.38L395.86,133.27L396.84,133.41L396.13,134.11L396.30,135.09L395.41,134.62L394.53,135.09L394.70,134.11L393.99,133.41L394.97,133.27ZM425.72,155.92L426.16,156.82L427.14,156.96L426.43,157.66L426.60,158.64L425.72,158.17L424.84,158.64L425.00,157.66L424.29,156.96L425.28,156.82ZM395.41,179.47L395.86,180.37L396.84,180.51L396.13,181.21L396.30,182.19L395.41,181.72L394.53,182.19L394.70,181.21L393.99,180.51L394.97,180.37ZM425.72,179.47L426.16,180.37L427.14,180.51L426.43,181.21L426.60,182.19L425.72,181.72L424.84,182.19L425.00,181.21L424.29,180.51L425.28,180.37ZM440.87,179.47L441.31,180.37L442.30,180.51L441.58,181.21L441.75,182.19L440.87,181.72L439.99,182.19L440.16,181.21L439.44,180.51L440.43,180.37ZM395.41,203.02L395.86,203.92L396.84,204.06L396.13,204.76L396.30,205.74L395.41,205.27L394.53,205.74L394.70,204.76L393.99,204.06L394.97,203.92ZM425.72,203.02L426.16,203.92L427.14,204.06L426.43,204.76L426.60,205.74L425.72,205.27L424.84,205.74L425.00,204.76L424.29,204.06L425.28,203.92ZM440.87,226.57L441.31,227.47L442.30,227.61L441.58,228.31L441.75,229.29L440.87,228.82L439.99,229.29L440.16,228.31L439.44,227.61L440.43,227.47ZM418.14,250.12L418.58,251.02L419.57,251.16L418.86,251.86L419.02,252.84L418.14,252.38L417.26,252.84L417.43,251.86L416.72,251.16L417.70,251.02ZM440.87,273.67L441.31,274.57L442.30,274.71L441.58,275.41L441.75,276.39L440.87,275.92L439.99,276.39L440.16,275.41L439.44,274.71L440.43,274.57ZM410.57,297.22L411.01,298.12L411.99,298.26L411.28,298.96L411.45,299.94L410.57,299.47L409.68,299.94L409.85,298.96L409.14,298.26L410.13,298.12ZM440.87,297.22L441.31,298.12L442.30,298.26L441.58,298.96L441.75,299.94L440.87,299.47L439.99,299.94L440.16,298.96L439.44,298.26L440.43,298.12ZM467.00,38.18L467.44,39.07L468.43,39.21L467.71,39.91L467.88,40.89L467.00,40.43L466.12,40.89L466.29,39.91L465.57,39.21L466.56,39.07ZM474.58,85.28L475.02,86.17L476.00,86.31L475.29,87.01L475.46,87.99L474.58,87.53L473.69,87.99L473.86,87.01L473.15,86.31L474.14,86.17ZM482.15,85.28L482.59,86.17L483.58,86.31L482.87,87.01L483.03,87.99L482.15,87.53L481.27,87.99L481.44,87.01L480.73,86.31L481.71,86.17ZM474.58,108.83L475.02,109.72L476.00,109.86L475.29,110.56L475.46,111.54L474.58,111.08L473.69,111.54L473.86,110.56L473.15,109.86L474.14,109.72ZM497.30,108.83L497.74,109.72L498.73,109.86L498.02,110.56L498.19,111.54L497.30,111.08L496.42,111.54L496.59,110.56L495.88,109.86L496.86,109.72ZM474.58,132.38L475.02,133.27L476.00,133.41L475.29,134.11L475.46,135.09L474.58,134.62L473.69,135.09L473.86,134.11L473.15,133.41L474.14,133.27ZM474.58,179.47L475.02,180.37L476.00,180.51L475.29,181.21L475.46,182.19L474.58,181.72L473.69,182.19L473.86,181.21L473.15,180.51L474.14,180.37ZM482.15,179.47L482.59,180.37L483.58,180.51L482.87,181.21L483.03,182.19L482.15,181.72L481.27,182.19L481.44,181.21L480.73,180.51L481.71,180.37ZM489.73,179.47L490.17,180.37L491.15,180.51L490.44,181.21L490.61,182.19L489.73,181.72L488.85,182.19L489.01,181.21L488.30,180.51L489.29,180.37ZM474.58,203.02L475.02,203.92L476.00,204.06L475.29,204.76L475.46,205.74L474.58,205.27L473.69,205.74L473.86,204.76L473.15,204.06L474.14,203.92ZM482.15,203.02L482.59,203.92L483.58,204.06L482.87,204.76L483.03,205.74L482.15,205.27L481.27,205.74L481.44,204.76L480.73,204.06L481.71,203.92ZM489.73,203.02L490.17,203.92L491.15,204.06L490.44,204.76L490.61,205.74L489.73,205.27L488.85,205.74L489.01,204.76L488.30,204.06L489.29,203.92ZM467.00,226.57L467.44,227.47L468.43,227.61L467.71,228.31L467.88,229.29L467.00,228.82L466.12,229.29L466.29,228.31L465.57,227.61L466.56,227.47ZM482.15,250.12L482.59,251.02L483.58,251.16L482.87,251.86L483.03,252.84L482.15,252.38L481.27,252.84L481.44,251.86L480.73,251.16L481.71,251.02ZM482.15,273.67L482.59,274.57L483.58,274.71L482.87,275.41L483.03,276.39L482.15,275.92L481.27,276.39L481.44,275.41L480.73,274.71L481.71,274.57ZM467.00,297.22L467.44,298.12L468.43,298.26L467.71,298.96L467.88,299.94L467.00,299.47L466.12,299.94L466.29,298.96L465.57,298.26L466.56,298.12ZM508.28,38.18L508.72,39.07L509.71,39.21L509.00,39.91L509.16,40.89L508.28,40.43L507.40,40.89L507.57,39.91L506.86,39.21L507.84,39.07ZM508.28,61.73L508.72,62.62L509.71,62.76L509.00,63.46L509.16,64.44L508.28,63.98L507.40,64.44L507.57,63.46L506.86,62.76L507.84,62.62ZM515.86,61.73L516.30,62.62L517.28,62.76L516.57,63.46L516.74,64.44L515.86,63.98L514.98,64.44L515.15,63.46L514.43,62.76L515.42,62.62ZM523.43,108.83L523.88,109.72L524.86,109.86L524.15,110.56L524.32,111.54L523.43,111.08L522.55,111.54L522.72,110.56L522.01,109.86L522.99,109.72ZM508.28,132.38L508.72,133.27L509.71,133.41L509.00,134.11L509.16,135.09L508.28,134.62L507.40,135.09L507.57,134.11L506.86,133.41L507.84,133.27ZM515.86,132.38L516.30,133.27L517.28,133.41L516.57,134.11L516.74,135.09L515.86,134.62L514.98,135.09L515.15,134.11L514.43,133.41L515.42,133.27ZM508.28,203.02L508.72,203.92L509.71,204.06L509.00,204.76L509.16,205.74L508.28,205.27L507.40,205.74L507.57,204.76L506.86,204.06L507.84,203.92ZM572.29,61.73L572.73,62.62L573.72,62.76L573.01,63.46L573.17,64.44L572.29,63.98L571.41,64.44L571.58,63.46L570.87,62.76L571.85,62.62ZM564.72,85.28L565.16,86.17L566.14,86.31L565.43,87.01L565.60,87.99L564.72,87.53L563.83,87.99L564.00,87.01L563.29,86.31L564.28,86.17ZM572.29,85.28L572.73,86.17L573.72,86.31L573.01,87.01L573.17,87.99L572.29,87.53L571.41,87.99L571.58,87.01L570.87,86.31L571.85,86.17ZM564.72,108.83L565.16,109.72L566.14,109.86L565.43,110.56L565.60,111.54L564.72,111.08L563.83,111.54L564.00,110.56L563.29,109.86L564.28,109.72ZM564.72,132.38L565.16,133.27L566.14,133.41L565.43,134.11L565.60,135.09L564.72,134.62L563.83,135.09L564.00,134.11L563.29,133.41L564.28,133.27ZM557.14,155.92L557.58,156.82L558.57,156.96L557.85,157.66L558.02,158.64L557.14,158.17L556.26,158.64L556.43,157.66L555.71,156.96L556.70,156.82ZM564.72,179.47L565.16,180.37L566.14,180.51L565.43,181.21L565.60,182.19L564.72,181.72L563.83,182.19L564.00,181.21L563.29,180.51L564.28,180.37ZM564.72,203.02L565.16,203.92L566.14,204.06L565.43,204.76L565.60,205.74L564.72,205.27L563.83,205.74L564.00,204.76L563.29,204.06L564.28,203.92ZM557.14,250.12L557.58,251.02L558.57,251.16L557.85,251.86L558.02,252.84L557.14,252.38L556.26,252.84L556.43,251.86L555.71,251.16L556.70,251.02ZM572.29,250.12L572.73,251.02L573.72,251.16L573.01,251.86L573.17,252.84L572.29,252.38L571.41,252.84L571.58,251.86L570.87,251.16L571.85,251.02ZM557.14,297.22L557.58,298.12L558.57,298.26L557.85,298.96L558.02,299.94L557.14,299.47L556.26,299.94L556.43,298.96L555.71,298.26L556.70,298.12Z"/>
<g font-size="10.75" font-weight="bold" text-anchor="middle">
<text x="19.93" y="20.55">B cells</text>
<text x="68.75" y="20.55">TCD4</text>
<text x="110.00" y="20.55">TCD8</text>
<text x="155.03" y="20.55">DCs</text>
<text x="207.64" y="20.55">Endoth.</text>
<text x="252.67" y="20.55">Epith.</text>
<text x="309.06" y="20.55">Fibs</text>
<text x="365.45" y="20.55">Mast</text>
<text x="425.62" y="8.65">Monocytes/</text><text x="425.62" y="20.3">Macrophages</text>
<text x="482.02" y="20.55">NK</text>
<text x="527.05" y="20.55">PCs</text>
<text x="564.52" y="20.55">PMNs</text>
</g>
<g font-size="10.8">
<text x="579.8" y="44.88">IGHG3</text>
<text x="579.8" y="68.43">IGKC</text>
<text x="579.8" y="91.98">F2R</text>
<text x="579.8" y="115.53">F2RL2</text>
<text x="579.8" y="139.08">IGHM</text>
<text x="579.8" y="162.62">CFI</text>
<text x="579.8" y="186.18">A2M</text>
<text x="579.8" y="209.72">signature1</text>
<text x="579.8" y="233.28">FGA</text>
<text x="579.8" y="256.82">SERPINE1</text>
<text x="579.8" y="280.37">FGG</text>
<text x="579.8" y="303.92">F3</text>
</g>
<g font-size="8.35" text-anchor="end" stroke="#000" stroke-width="0.05">
<text transform="translate(7.38,315.65) rotate(-90)">S01</text>
<text transform="translate(14.96,315.65) rotate(-90)">S02</text>
<text transform="translate(22.53,315.65) rotate(-90)">S03</text>
<text transform="translate(30.10,315.65) rotate(-90)">S04</text>
<text transform="translate(37.66,315.65) rotate(-90)">S05</text>
<text transform="translate(48.63,315.65) rotate(-90)">S01</text>
<text transform="translate(56.21,315.65) rotate(-90)">S02</text>
<text transform="translate(63.77,315.65) rotate(-90)">S03</text>
<text transform="translate(71.34,315.65) rotate(-90)">S04</text>
<text transform="translate(78.91,315.65) rotate(-90)">S05</text>
<text transform="translate(86.48,315.65) rotate(-90)">S06</text>
<text transform="translate(94.05,315.65) rotate(-90)">S07</text>
<text transform="translate(105.02,315.65) rotate(-90)">S01</text>
<text transform="translate(112.59,315.65) rotate(-90)">S02</text>
<text transform="translate(120.16,315.65) rotate(-90)">S03</text>
<text transform="translate(131.13,315.65) rotate(-90)">S01</text>
<text transform="translate(138.70,315.65) rotate(-90)">S02</text>
<text transform="translate(146.27,315.65) rotate(-90)">S03</text>
<text transform="translate(153.84,315.65) rotate(-90)">S04</text>
<text transform="translate(161.41,315.65) rotate(-90)">S05</text>
<text transform="translate(168.98,315.65) rotate(-90)">S06</text>
<text transform="translate(176.56,315.65) rotate(-90)">S07</text>
<text transform="translate(184.12,315.65) rotate(-90)">S08</text>
<text transform="translate(195.09,315.65) rotate(-90)">S01</text>
<text transform="translate(202.66,315.65) rotate(-90)">S02</text>
<text transform="translate(210.24,315.65) rotate(-90)">S03</text>
<text transform="translate(217.81,315.65) rotate(-90)">S04</text>
<text transform="translate(225.38,315.65) rotate(-90)">S05</text>
<text transform="translate(236.34,315.65) rotate(-90)">S01</text>
<text transform="translate(243.91,315.65) rotate(-90)">S02</text>
<text transform="translate(251.49,315.65) rotate(-90)">S03</text>
<text transform="translate(259.06,315.65) rotate(-90)">S04</text>
<text transform="translate(266.63,315.65) rotate(-90)">S05</text>
<text transform="translate(274.20,315.65) rotate(-90)">S06</text>
<text transform="translate(285.17,315.65) rotate(-90)">S01</text>
<text transform="translate(292.74,315.65) rotate(-90)">S02</text>
<text transform="translate(300.31,315.65) rotate(-90)">S03</text>
<text transform="translate(307.88,315.65) rotate(-90)">S04</text>
<text transform="translate(315.45,315.65) rotate(-90)">S05</text>
<text transform="translate(323.02,315.65) rotate(-90)">S06</text>
<text transform="translate(330.59,315.65) rotate(-90)">S07</text>
<text transform="translate(338.16,315.65) rotate(-90)">S08</text>
<text transform="translate(349.13,315.65) rotate(-90)">S01</text>
<text transform="translate(356.70,315.65) rotate(-90)">S02</text>
<text transform="translate(364.27,315.65) rotate(-90)">S03</text>
<text transform="translate(371.84,315.65) rotate(-90)">S04</text>
<text transform="translate(379.41,315.65) rotate(-90)">S05</text>
<text transform="translate(386.98,315.65) rotate(-90)">S06</text>
<text transform="translate(397.95,315.65) rotate(-90)">S01</text>
<text transform="translate(405.52,315.65) rotate(-90)">S02</text>
<text transform="translate(413.09,315.65) rotate(-90)">S03</text>
<text transform="translate(420.66,315.65) rotate(-90)">S04</text>
<text transform="translate(428.23,315.65) rotate(-90)">S05</text>
<text transform="translate(435.80,315.65) rotate(-90)">S06</text>
<text transform="translate(443.37,315.65) rotate(-90)">S07</text>
<text transform="translate(450.94,315.65) rotate(-90)">S08</text>
<text transform="translate(458.51,315.65) rotate(-90)">S09</text>
<text transform="translate(469.48,315.65) rotate(-90)">S01</text>
<text transform="translate(477.05,315.65) rotate(-90)">S02</text>
<text transform="translate(484.62,315.65) rotate(-90)">S03</text>
<text transform="translate(492.19,315.65) rotate(-90)">S04</text>
<text transform="translate(499.76,315.65) rotate(-90)">S05</text>
<text transform="translate(510.73,315.65) rotate(-90)">S01</text>
<text transform="translate(518.30,315.65) rotate(-90)">S02</text>
<text transform="translate(525.87,315.65) rotate(-90)">S03</text>
<text transform="translate(533.44,315.65) rotate(-90)">S04</text>
<text transform="translate(541.00,315.65) rotate(-90)">S05</text>
<text transform="translate(548.58,315.65) rotate(-90)">S06</text>
<text transform="translate(559.55,315.65) rotate(-90)">S01</text>
<text transform="translate(567.12,315.65) rotate(-90)">S02</text>
<text transform="translate(574.69,315.65) rotate(-90)">S03</text>
</g>
<text x="644.3" y="133.9" font-size="11.65" font-weight="bold">log2FC</text>
<rect x="643" y="141.90" width="14.9" height="73.10" fill="url(#lg)"/>
<path d="M643 144.55h3.6M654.3 144.55h3.6" stroke="#fff" stroke-width="0.55"/>
<text x="661" y="148.25" font-size="11.7">2</text>
<path d="M643 161.51h3.6M654.3 161.51h3.6" stroke="#fff" stroke-width="0.55"/>
<text x="661" y="165.21" font-size="11.7">1</text>
<path d="M643 178.48h3.6M654.3 178.48h3.6" stroke="#fff" stroke-width="0.55"/>
<text x="661" y="182.18" font-size="11.7">0</text>
<path d="M643 195.44h3.6M654.3 195.44h3.6" stroke="#fff" stroke-width="0.55"/>
<text x="661" y="199.14" font-size="11.7">−1</text>
<path d="M643 212.40h3.6M654.3 212.40h3.6" stroke="#fff" stroke-width="0.55"/>
<text x="661" y="216.10" font-size="11.7">−2</text>
</svg></body></html>
